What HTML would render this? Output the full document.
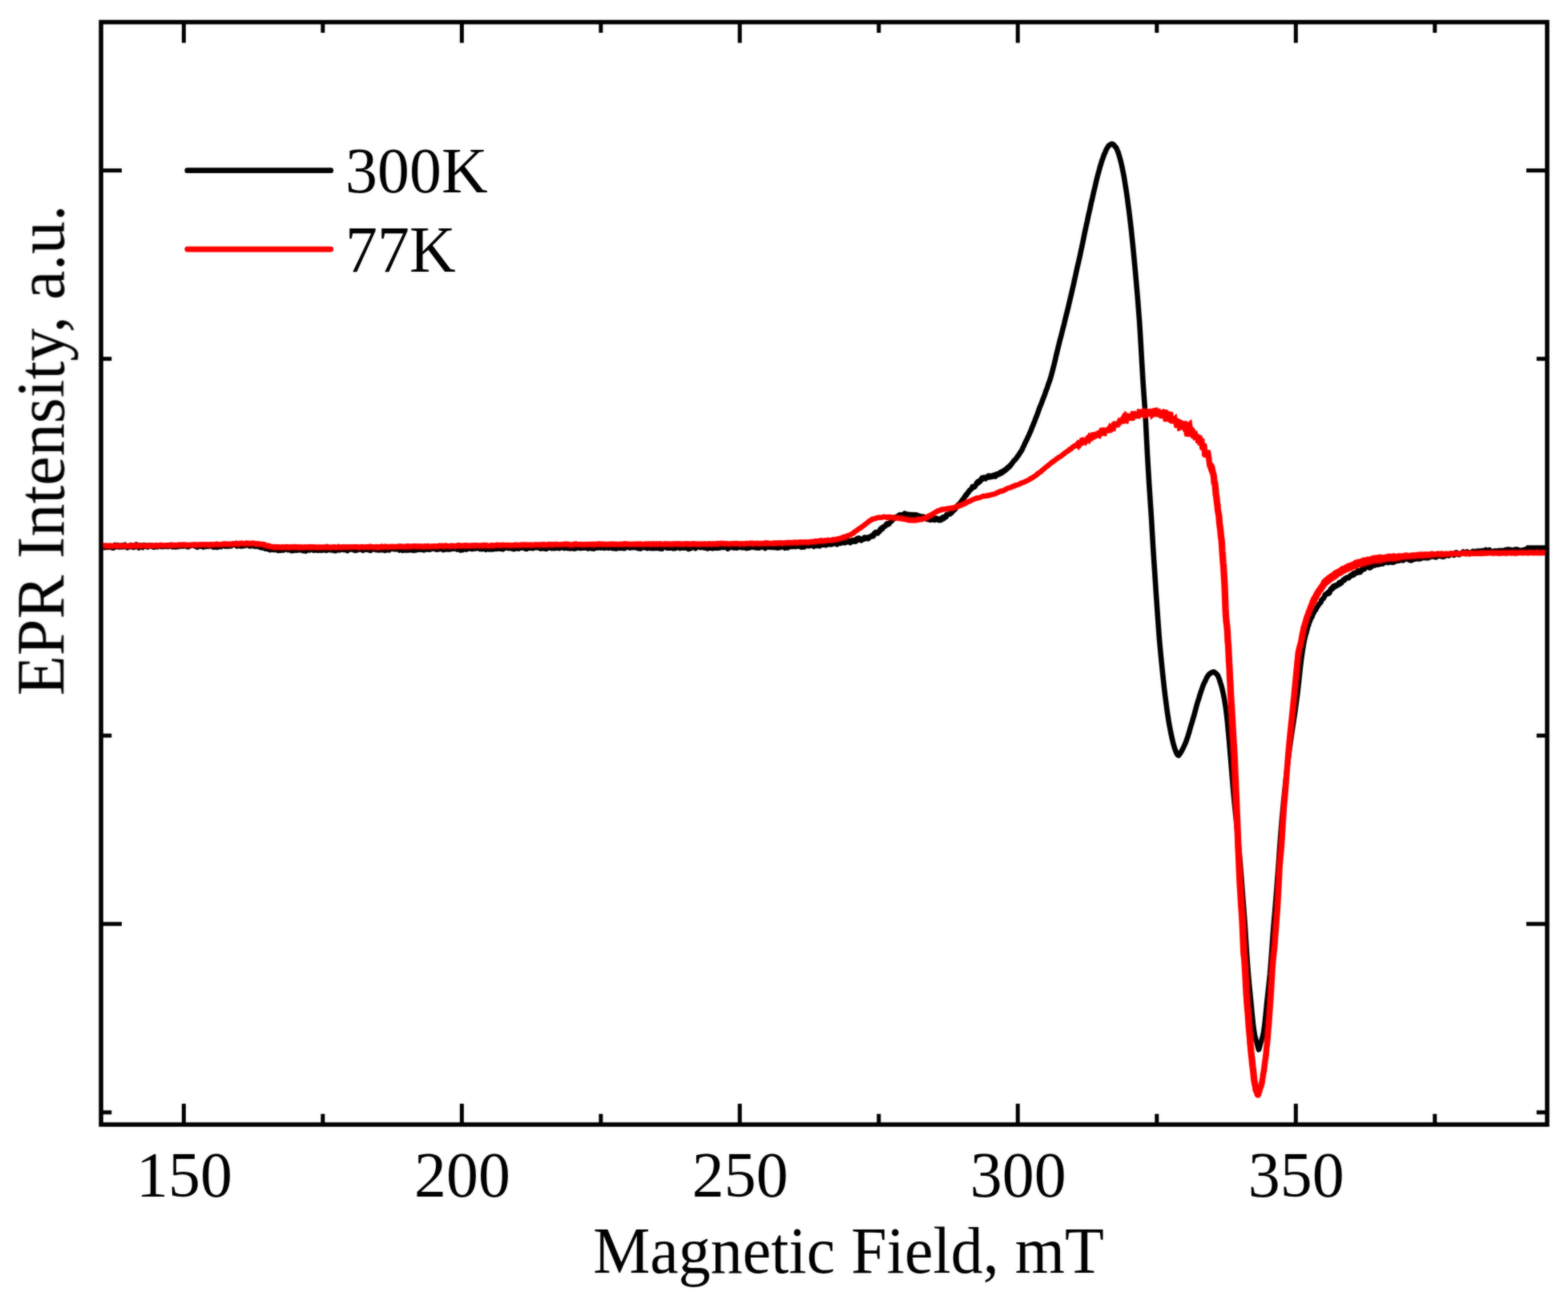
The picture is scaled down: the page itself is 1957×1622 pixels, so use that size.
<!DOCTYPE html>
<html lang="en">
<head>
<meta charset="utf-8">
<title>EPR Intensity vs Magnetic Field</title>
<style>
html,body{margin:0;padding:0;background:#fff;}
body{width:1957px;height:1622px;overflow:hidden;}
svg{display:block;}
text{font-family:"Liberation Serif",serif;font-size:80px;fill:#000;}
.ax line{stroke:#000;stroke-width:5.0;}
</style>
</head>
<body>
<svg width="1957" height="1622" viewBox="0 0 1957 1622">
<rect width="1957" height="1622" fill="#fff"/>
<defs><filter id="soft" x="0" y="0" width="1957" height="1622" filterUnits="userSpaceOnUse"><feGaussianBlur in="SourceGraphic" stdDeviation="0.9" result="b"/><feComposite in="b" in2="SourceGraphic" operator="arithmetic" k1="0" k2="0.55" k3="0.45" k4="0"/></filter><clipPath id="plot"><rect x="126.1" y="27.6" width="1804.9" height="1375.5"/></clipPath></defs>
<g filter="url(#soft)">
<g class="ax">
<line x1="229.4" y1="1403.1" x2="229.4" y2="1377.1"/>
<line x1="229.4" y1="27.6" x2="229.4" y2="53.5"/>
<line x1="576.4" y1="1403.1" x2="576.4" y2="1377.1"/>
<line x1="576.4" y1="27.6" x2="576.4" y2="53.5"/>
<line x1="923.3" y1="1403.1" x2="923.3" y2="1377.1"/>
<line x1="923.3" y1="27.6" x2="923.3" y2="53.5"/>
<line x1="1270.3" y1="1403.1" x2="1270.3" y2="1377.1"/>
<line x1="1270.3" y1="27.6" x2="1270.3" y2="53.5"/>
<line x1="1617.3" y1="1403.1" x2="1617.3" y2="1377.1"/>
<line x1="1617.3" y1="27.6" x2="1617.3" y2="53.5"/>
<line x1="402.9" y1="1403.1" x2="402.9" y2="1389.8"/>
<line x1="402.9" y1="27.6" x2="402.9" y2="40.9"/>
<line x1="749.9" y1="1403.1" x2="749.9" y2="1389.8"/>
<line x1="749.9" y1="27.6" x2="749.9" y2="40.9"/>
<line x1="1096.8" y1="1403.1" x2="1096.8" y2="1389.8"/>
<line x1="1096.8" y1="27.6" x2="1096.8" y2="40.9"/>
<line x1="1443.8" y1="1403.1" x2="1443.8" y2="1389.8"/>
<line x1="1443.8" y1="27.6" x2="1443.8" y2="40.9"/>
<line x1="1790.8" y1="1403.1" x2="1790.8" y2="1389.8"/>
<line x1="1790.8" y1="27.6" x2="1790.8" y2="40.9"/>
<line x1="126.1" y1="212.7" x2="152.0" y2="212.7"/>
<line x1="1931.0" y1="212.7" x2="1905.0" y2="212.7"/>
<line x1="126.1" y1="682.8" x2="152.0" y2="682.8"/>
<line x1="1931.0" y1="682.8" x2="1905.0" y2="682.8"/>
<line x1="126.1" y1="1152.8" x2="152.0" y2="1152.8"/>
<line x1="1931.0" y1="1152.8" x2="1905.0" y2="1152.8"/>
<line x1="126.1" y1="447.7" x2="139.3" y2="447.7"/>
<line x1="1931.0" y1="447.7" x2="1917.8" y2="447.7"/>
<line x1="126.1" y1="917.8" x2="139.3" y2="917.8"/>
<line x1="1931.0" y1="917.8" x2="1917.8" y2="917.8"/>
<line x1="126.1" y1="1387.9" x2="139.3" y2="1387.9"/>
<line x1="1931.0" y1="1387.9" x2="1917.8" y2="1387.9"/>
</g>
<g clip-path="url(#plot)">
<path fill="none" stroke="#000" stroke-width="6.6" stroke-linejoin="round" d="M124.1,681.5 124.7,682.5 125.3,682.4 125.9,681.6 126.5,681.5 127.1,682.0 127.7,682.5 128.3,681.5 128.9,683.0 129.5,682.0 130.1,682.7 130.7,681.1 131.3,683.1 131.9,682.6 132.5,682.0 133.1,682.7 133.7,682.5 134.3,682.5 134.9,682.2 135.5,682.9 136.1,682.6 136.7,682.8 137.3,682.5 137.9,681.1 138.5,681.5 139.1,682.7 139.7,683.2 140.3,682.4 140.9,683.7 141.5,683.5 142.1,683.3 142.7,682.9 143.3,681.6 143.9,680.0 144.5,680.8 145.1,680.7 145.7,681.4 146.3,681.4 146.9,681.3 147.5,680.3 148.1,681.3 148.7,682.6 149.3,680.9 149.9,681.4 150.5,682.0 151.1,680.8 151.7,680.5 152.3,682.3 152.9,681.0 153.5,681.8 154.1,682.3 154.7,682.1 155.3,680.6 155.9,679.8 156.5,681.6 157.1,681.0 157.7,681.9 158.3,682.7 158.9,683.3 159.5,682.2 160.1,682.3 160.7,682.2 161.3,681.1 161.9,681.4 162.5,680.9 163.1,682.2 163.7,680.2 164.3,681.5 164.9,680.5 165.5,681.2 166.1,680.9 166.7,683.0 167.3,682.0 167.9,682.4 168.5,680.8 169.1,680.3 169.7,681.1 170.3,679.3 170.9,681.2 171.5,681.3 172.1,681.7 172.7,682.9 173.3,683.4 173.9,682.3 174.5,682.2 175.1,681.9 175.7,681.8 176.3,680.5 176.9,682.4 177.5,682.6 178.1,683.0 178.7,681.2 179.3,681.0 179.9,680.2 180.5,680.4 181.1,680.7 181.7,681.6 182.3,681.6 182.9,680.8 183.5,682.2 184.1,680.9 184.7,682.5 185.3,680.8 185.9,680.4 186.5,680.5 187.1,680.5 187.7,680.8 188.3,681.4 188.9,681.6 189.5,680.9 190.1,682.0 190.7,682.2 191.3,682.1 191.9,682.6 192.5,681.5 193.1,681.9 193.7,680.9 194.3,681.7 194.9,682.3 195.5,681.1 196.1,680.6 196.7,680.9 197.3,682.0 197.9,681.3 198.5,681.1 199.1,681.4 199.7,681.3 200.3,680.8 200.9,681.8 201.5,682.1 202.1,681.1 202.7,681.4 203.3,681.9 203.9,681.8 204.5,681.9 205.1,682.0 205.7,681.6 206.3,681.3 206.9,681.0 207.5,681.6 208.1,681.3 208.7,681.0 209.3,681.9 209.9,682.0 210.5,681.4 211.1,680.5 211.7,681.6 212.3,680.0 212.9,680.9 213.5,680.0 214.1,681.7 214.7,682.1 215.3,682.3 215.9,681.5 216.5,682.1 217.1,681.7 217.7,681.4 218.3,681.2 218.9,682.2 219.5,681.6 220.1,682.3 220.7,682.1 221.3,681.3 221.9,681.1 222.5,680.5 223.1,681.8 223.7,682.0 224.3,681.2 224.9,681.2 225.5,681.3 226.1,680.7 226.7,681.2 227.3,681.0 227.9,681.1 228.5,681.6 229.1,681.5 229.7,680.7 230.3,679.9 230.9,681.0 231.5,680.9 232.1,680.0 232.7,681.6 233.3,681.3 233.9,681.0 234.5,682.2 235.1,681.4 235.7,682.0 236.3,681.5 236.9,680.9 237.5,680.4 238.1,680.0 238.7,680.0 239.3,680.7 239.9,680.7 240.5,680.4 241.1,680.1 241.7,680.0 242.3,680.6 242.9,680.0 243.5,679.8 244.1,681.6 244.7,681.3 245.3,682.2 245.9,681.7 246.5,682.5 247.1,680.2 247.7,680.4 248.3,681.4 248.9,680.5 249.5,679.7 250.1,681.0 250.7,681.6 251.3,680.3 251.9,680.7 252.5,680.9 253.1,681.9 253.7,682.5 254.3,680.6 254.9,680.7 255.5,679.8 256.1,681.8 256.7,681.6 257.3,681.8 257.9,680.2 258.5,680.4 259.1,680.5 259.7,680.2 260.3,681.7 260.9,680.3 261.5,680.5 262.1,680.1 262.7,681.1 263.3,679.5 263.9,681.3 264.5,680.2 265.1,682.1 265.7,681.6 266.3,682.8 266.9,682.8 267.5,682.2 268.1,681.5 268.7,680.7 269.3,682.4 269.9,682.1 270.5,681.4 271.1,681.9 271.7,682.7 272.3,681.1 272.9,681.9 273.5,680.0 274.1,681.2 274.7,681.9 275.3,681.6 275.9,682.1 276.5,681.5 277.1,681.3 277.7,680.9 278.3,680.8 278.9,680.6 279.5,680.3 280.1,680.0 280.7,681.3 281.3,680.5 281.9,679.9 282.5,681.6 283.1,680.2 283.7,679.5 284.3,680.9 284.9,681.0 285.5,681.5 286.1,680.9 286.7,680.9 287.3,680.7 287.9,680.0 288.5,681.3 289.1,680.3 289.7,680.3 290.3,679.9 290.9,678.4 291.5,678.7 292.1,679.0 292.7,679.0 293.3,679.7 293.9,679.1 294.5,679.9 295.1,681.3 295.7,681.4 296.3,681.0 296.9,679.9 297.5,680.7 298.1,680.0 298.7,679.2 299.3,680.8 299.9,679.8 300.5,679.9 301.1,681.4 301.7,680.5 302.3,681.2 302.9,680.4 303.5,680.4 304.1,680.0 304.7,680.9 305.3,679.5 305.9,680.8 306.5,679.2 307.1,678.5 307.7,679.8 308.3,678.7 308.9,678.9 309.5,678.2 310.1,680.7 310.7,680.9 311.3,681.3 311.9,681.4 312.5,680.4 313.1,681.0 313.7,680.4 314.3,681.1 314.9,681.0 315.5,680.2 316.1,680.5 316.7,679.6 317.3,680.7 317.9,681.5 318.5,679.4 319.1,680.2 319.7,681.6 320.3,679.7 320.9,679.7 321.5,680.6 322.1,681.4 322.7,681.9 323.3,681.2 323.9,681.9 324.5,682.7 325.1,682.7 325.7,682.3 326.3,683.3 326.9,681.9 327.5,681.7 328.1,682.0 328.7,682.7 329.3,683.6 329.9,683.7 330.5,684.3 331.1,683.3 331.7,684.7 332.3,683.6 332.9,683.4 333.5,684.5 334.1,682.9 334.7,682.9 335.3,684.7 335.9,685.6 336.5,684.9 337.1,686.1 337.7,685.9 338.3,684.9 338.9,684.4 339.5,685.4 340.1,685.6 340.7,683.9 341.3,685.8 341.9,685.4 342.5,686.0 343.1,686.0 343.7,684.6 344.3,685.7 344.9,684.9 345.5,686.0 346.1,685.0 346.7,684.6 347.3,686.9 347.9,685.5 348.5,685.7 349.1,686.7 349.7,686.8 350.3,686.4 350.9,686.4 351.5,686.0 352.1,686.3 352.7,685.4 353.3,685.0 353.9,686.4 354.5,686.0 355.1,684.7 355.7,684.6 356.3,684.7 356.9,684.9 357.5,684.2 358.1,684.9 358.7,684.4 359.3,686.2 359.9,686.1 360.5,685.4 361.1,685.4 361.7,685.1 362.3,684.9 362.9,686.6 363.5,685.3 364.1,687.2 364.7,686.4 365.3,686.2 365.9,686.8 366.5,687.0 367.1,686.2 367.7,685.4 368.3,686.6 368.9,686.2 369.5,685.6 370.1,686.6 370.7,684.8 371.3,685.6 371.9,685.3 372.5,684.5 373.1,685.4 373.7,686.3 374.3,685.3 374.9,684.5 375.5,684.1 376.1,685.6 376.7,685.4 377.3,685.1 377.9,687.0 378.5,685.7 379.1,686.9 379.7,686.8 380.3,686.1 380.9,686.6 381.5,687.6 382.1,686.9 382.7,685.6 383.3,685.2 383.9,686.0 384.5,685.0 385.1,685.5 385.7,686.2 386.3,684.9 386.9,686.2 387.5,685.7 388.1,685.8 388.7,685.7 389.3,685.3 389.9,684.5 390.5,684.8 391.1,685.5 391.7,686.6 392.3,685.9 392.9,684.9 393.5,684.8 394.1,685.8 394.7,685.8 395.3,686.7 395.9,686.7 396.5,685.2 397.1,685.3 397.7,686.6 398.3,686.1 398.9,685.3 399.5,685.4 400.1,686.5 400.7,684.7 401.3,685.5 401.9,686.1 402.5,685.5 403.1,686.5 403.7,684.9 404.3,684.8 404.9,684.5 405.5,685.1 406.1,685.4 406.7,685.5 407.3,686.8 407.9,685.5 408.5,685.5 409.1,686.0 409.7,686.1 410.3,685.0 410.9,685.8 411.5,685.9 412.1,685.1 412.7,685.8 413.3,686.3 413.9,685.9 414.5,685.8 415.1,684.9 415.7,685.1 416.3,685.7 416.9,686.9 417.5,685.4 418.1,685.7 418.7,687.1 419.3,686.2 419.9,685.5 420.5,686.1 421.1,685.6 421.7,685.9 422.3,685.0 422.9,684.9 423.5,686.4 424.1,685.5 424.7,685.0 425.3,685.8 425.9,685.8 426.5,685.3 427.1,685.0 427.7,685.5 428.3,684.7 428.9,685.9 429.5,684.2 430.1,685.6 430.7,684.7 431.3,686.1 431.9,684.4 432.5,685.5 433.1,685.2 433.7,687.1 434.3,685.9 434.9,685.7 435.5,684.8 436.1,685.2 436.7,685.5 437.3,685.6 437.9,684.8 438.5,683.6 439.1,683.6 439.7,684.6 440.3,684.2 440.9,685.5 441.5,686.1 442.1,685.4 442.7,686.2 443.3,686.8 443.9,685.3 444.5,685.4 445.1,685.7 445.7,686.3 446.3,684.9 446.9,685.3 447.5,685.8 448.1,685.4 448.7,684.0 449.3,685.3 449.9,685.6 450.5,683.8 451.1,685.4 451.7,686.0 452.3,686.0 452.9,686.6 453.5,685.2 454.1,685.5 454.7,686.0 455.3,685.7 455.9,685.6 456.5,685.1 457.1,685.6 457.7,684.7 458.3,684.5 458.9,684.2 459.5,684.5 460.1,686.0 460.7,685.0 461.3,686.3 461.9,685.0 462.5,686.9 463.1,685.6 463.7,685.0 464.3,685.4 464.9,683.9 465.5,683.5 466.1,685.0 466.7,683.7 467.3,684.4 467.9,685.6 468.5,685.4 469.1,685.1 469.7,686.0 470.3,684.1 470.9,684.2 471.5,684.1 472.1,686.2 472.7,686.5 473.3,686.0 473.9,685.6 474.5,686.3 475.1,686.2 475.7,686.3 476.3,686.3 476.9,685.2 477.5,685.1 478.1,684.7 478.7,686.2 479.3,686.2 479.9,684.8 480.5,686.8 481.1,685.2 481.7,684.1 482.3,685.1 482.9,685.9 483.5,684.4 484.1,684.7 484.7,686.1 485.3,684.6 485.9,686.3 486.5,684.9 487.1,684.7 487.7,684.1 488.3,684.4 488.9,684.6 489.5,683.9 490.1,683.7 490.7,684.5 491.3,685.0 491.9,685.3 492.5,685.2 493.1,684.9 493.7,685.2 494.3,683.9 494.9,685.1 495.5,684.8 496.1,683.9 496.7,684.9 497.3,684.8 497.9,685.1 498.5,686.5 499.1,686.2 499.7,685.1 500.3,685.9 500.9,686.0 501.5,684.6 502.1,684.4 502.7,686.8 503.3,684.9 503.9,685.1 504.5,685.7 505.1,685.2 505.7,686.3 506.3,685.7 506.9,685.9 507.5,686.4 508.1,685.6 508.7,686.3 509.3,686.5 509.9,686.2 510.5,685.7 511.1,685.9 511.7,684.4 512.3,686.3 512.9,686.3 513.5,684.5 514.1,685.3 514.7,686.5 515.3,685.6 515.9,684.7 516.5,686.0 517.1,686.7 517.7,685.3 518.3,685.7 518.9,684.7 519.5,686.3 520.1,686.3 520.7,685.3 521.3,685.0 521.9,684.2 522.5,685.3 523.1,684.6 523.7,685.5 524.3,683.8 524.9,684.8 525.5,685.7 526.1,683.9 526.7,683.9 527.3,684.7 527.9,685.6 528.5,685.6 529.1,686.3 529.7,686.1 530.3,685.0 530.9,685.0 531.5,684.5 532.1,683.7 532.7,685.3 533.3,683.9 533.9,684.6 534.5,685.3 535.1,685.6 535.7,685.5 536.3,685.7 536.9,684.9 537.5,683.7 538.1,684.0 538.7,684.9 539.3,684.9 539.9,682.6 540.5,683.3 541.1,683.0 541.7,682.8 542.3,683.2 542.9,684.4 543.5,684.0 544.1,685.4 544.7,684.2 545.3,685.6 545.9,685.2 546.5,684.5 547.1,685.2 547.7,685.2 548.3,683.3 548.9,685.2 549.5,683.6 550.1,684.1 550.7,684.4 551.3,684.2 551.9,684.3 552.5,685.3 553.1,685.9 553.7,684.9 554.3,685.6 554.9,685.7 555.5,684.2 556.1,685.1 556.7,684.0 557.3,684.4 557.9,685.4 558.5,683.4 559.1,684.6 559.7,684.9 560.3,684.8 560.9,685.4 561.5,684.0 562.1,684.1 562.7,684.8 563.3,684.9 563.9,684.7 564.5,684.2 565.1,683.7 565.7,684.3 566.3,684.7 566.9,684.4 567.5,683.1 568.1,684.4 568.7,684.3 569.3,684.3 569.9,684.9 570.5,685.4 571.1,683.9 571.7,685.2 572.3,684.9 572.9,685.2 573.5,684.0 574.1,685.1 574.7,686.5 575.3,685.8 575.9,684.7 576.5,685.5 577.1,686.1 577.7,684.9 578.3,684.5 578.9,684.0 579.5,684.8 580.1,685.1 580.7,684.5 581.3,684.8 581.9,685.5 582.5,684.3 583.1,684.1 583.7,683.9 584.3,684.7 584.9,683.4 585.5,683.6 586.1,684.1 586.7,682.6 587.3,683.2 587.9,684.5 588.5,683.9 589.1,683.4 589.7,685.0 590.3,684.7 590.9,683.3 591.5,684.4 592.1,683.8 592.7,683.6 593.3,684.6 593.9,684.3 594.5,682.8 595.1,683.3 595.7,683.5 596.3,683.4 596.9,683.7 597.5,684.3 598.1,684.4 598.7,685.0 599.3,684.7 599.9,683.2 600.5,684.4 601.1,683.4 601.7,685.2 602.3,683.1 602.9,684.2 603.5,683.2 604.1,684.4 604.7,683.3 605.3,685.1 605.9,684.8 606.5,685.7 607.1,684.3 607.7,683.6 608.3,684.1 608.9,683.8 609.5,683.4 610.1,685.3 610.7,684.9 611.3,684.2 611.9,683.4 612.5,685.5 613.1,684.3 613.7,683.2 614.3,684.8 614.9,685.3 615.5,684.1 616.1,684.4 616.7,685.0 617.3,684.6 617.9,684.0 618.5,683.3 619.1,684.5 619.7,685.0 620.3,684.7 620.9,683.3 621.5,683.4 622.1,684.4 622.7,684.4 623.3,683.6 623.9,684.1 624.5,684.6 625.1,683.3 625.7,684.0 626.3,683.4 626.9,685.2 627.5,683.5 628.1,685.2 628.7,683.9 629.3,683.2 629.9,683.2 630.5,683.9 631.1,683.6 631.7,682.5 632.3,683.0 632.9,682.8 633.5,682.4 634.1,683.8 634.7,684.1 635.3,683.5 635.9,683.8 636.5,683.7 637.1,684.1 637.7,683.4 638.3,684.0 638.9,684.3 639.5,683.7 640.1,684.7 640.7,684.0 641.3,683.5 641.9,685.0 642.5,684.3 643.1,684.5 643.7,682.5 644.3,682.4 644.9,682.7 645.5,682.0 646.1,683.6 646.7,683.1 647.3,684.6 647.9,684.0 648.5,682.3 649.1,683.3 649.7,683.1 650.3,682.1 650.9,682.1 651.5,683.5 652.1,682.4 652.7,682.9 653.3,683.4 653.9,682.7 654.5,683.7 655.1,683.1 655.7,684.7 656.3,684.0 656.9,683.5 657.5,684.9 658.1,683.4 658.7,683.9 659.3,683.3 659.9,683.5 660.5,681.6 661.1,683.5 661.7,682.5 662.3,683.4 662.9,682.6 663.5,684.0 664.1,683.5 664.7,682.5 665.3,683.1 665.9,683.9 666.5,682.6 667.1,681.8 667.7,682.9 668.3,682.8 668.9,683.1 669.5,682.6 670.1,683.2 670.7,683.2 671.3,683.2 671.9,682.3 672.5,683.7 673.1,682.5 673.7,683.6 674.3,683.8 674.9,684.4 675.5,683.5 676.1,682.6 676.7,682.7 677.3,682.4 677.9,683.4 678.5,682.7 679.1,684.4 679.7,682.8 680.3,684.0 680.9,684.6 681.5,684.8 682.1,683.2 682.7,684.5 683.3,683.9 683.9,682.5 684.5,683.5 685.1,683.4 685.7,683.0 686.3,683.0 686.9,682.9 687.5,683.5 688.1,683.9 688.7,683.0 689.3,683.6 689.9,682.5 690.5,684.0 691.1,683.8 691.7,682.3 692.3,683.2 692.9,683.0 693.5,684.0 694.1,683.3 694.7,683.4 695.3,683.5 695.9,682.8 696.5,683.7 697.1,683.9 697.7,684.1 698.3,683.2 698.9,683.7 699.5,682.1 700.1,683.2 700.7,681.3 701.3,683.3 701.9,681.9 702.5,682.7 703.1,681.6 703.7,682.9 704.3,682.5 704.9,684.0 705.5,683.3 706.1,683.3 706.7,683.5 707.3,682.9 707.9,682.4 708.5,682.5 709.1,684.2 709.7,683.3 710.3,682.5 710.9,683.6 711.5,683.5 712.1,684.3 712.7,682.4 713.3,682.0 713.9,682.5 714.5,682.0 715.1,683.6 715.7,683.6 716.3,684.4 716.9,683.5 717.5,683.7 718.1,684.4 718.7,684.2 719.3,684.1 719.9,682.4 720.5,682.1 721.1,681.6 721.7,682.7 722.3,683.2 722.9,682.9 723.5,682.8 724.1,684.0 724.7,683.5 725.3,682.6 725.9,683.5 726.5,682.3 727.1,683.8 727.7,682.6 728.3,683.4 728.9,682.9 729.5,682.6 730.1,682.8 730.7,683.4 731.3,682.8 731.9,683.5 732.5,683.3 733.1,684.1 733.7,684.4 734.3,684.5 734.9,683.7 735.5,683.4 736.1,683.4 736.7,682.6 737.3,683.5 737.9,683.9 738.5,684.3 739.1,684.0 739.7,684.4 740.3,684.0 740.9,683.6 741.5,684.4 742.1,683.9 742.7,683.3 743.3,683.5 743.9,683.6 744.5,682.6 745.1,683.5 745.7,683.6 746.3,682.8 746.9,683.3 747.5,683.2 748.1,683.3 748.7,682.3 749.3,682.4 749.9,683.6 750.5,681.8 751.1,683.3 751.7,682.7 752.3,683.0 752.9,683.3 753.5,683.8 754.1,682.6 754.7,683.3 755.3,681.9 755.9,681.4 756.5,682.7 757.1,683.6 757.7,682.9 758.3,683.0 758.9,682.3 759.5,683.2 760.1,683.7 760.7,682.7 761.3,682.3 761.9,681.7 762.5,682.2 763.1,683.2 763.7,683.7 764.3,683.1 764.9,683.4 765.5,684.1 766.1,682.7 766.7,682.5 767.3,684.3 767.9,684.3 768.5,683.2 769.1,684.5 769.7,683.7 770.3,682.9 770.9,684.1 771.5,683.6 772.1,683.8 772.7,682.8 773.3,683.5 773.9,683.5 774.5,683.8 775.1,683.9 775.7,682.8 776.3,682.6 776.9,683.1 777.5,683.1 778.1,683.0 778.7,684.3 779.3,684.3 779.9,682.6 780.5,682.5 781.1,683.0 781.7,683.0 782.3,681.9 782.9,682.7 783.5,681.6 784.1,682.6 784.7,682.0 785.3,682.1 785.9,682.0 786.5,683.7 787.1,683.0 787.7,682.5 788.3,682.7 788.9,682.5 789.5,682.6 790.1,683.1 790.7,683.1 791.3,682.5 791.9,682.5 792.5,681.2 793.1,681.0 793.7,681.8 794.3,683.4 794.9,682.9 795.5,683.0 796.1,683.8 796.7,684.2 797.3,682.7 797.9,683.2 798.5,684.2 799.1,684.5 799.7,683.2 800.3,683.9 800.9,683.5 801.5,683.5 802.1,682.8 802.7,683.1 803.3,681.9 803.9,681.7 804.5,683.1 805.1,681.7 805.7,682.8 806.3,683.2 806.9,683.8 807.5,683.4 808.1,684.1 808.7,683.5 809.3,683.9 809.9,683.3 810.5,683.4 811.1,683.6 811.7,682.0 812.3,683.9 812.9,684.1 813.5,683.4 814.1,682.9 814.7,684.0 815.3,684.0 815.9,684.2 816.5,683.3 817.1,683.5 817.7,682.5 818.3,683.9 818.9,682.7 819.5,682.9 820.1,683.8 820.7,682.5 821.3,681.8 821.9,682.5 822.5,682.7 823.1,684.3 823.7,684.1 824.3,684.1 824.9,684.5 825.5,684.7 826.1,684.8 826.7,683.1 827.3,682.8 827.9,682.0 828.5,682.1 829.1,681.6 829.7,682.5 830.3,681.3 830.9,682.1 831.5,682.4 832.1,683.2 832.7,683.8 833.3,682.5 833.9,683.6 834.5,683.6 835.1,683.2 835.7,682.4 836.3,683.0 836.9,683.6 837.5,682.2 838.1,682.7 838.7,682.9 839.3,683.7 839.9,683.0 840.5,684.3 841.1,682.8 841.7,683.2 842.3,683.2 842.9,684.1 843.5,683.8 844.1,683.5 844.7,683.4 845.3,682.6 845.9,680.8 846.5,681.2 847.1,682.3 847.7,683.0 848.3,683.1 848.9,683.9 849.5,683.3 850.1,683.6 850.7,683.3 851.3,682.7 851.9,681.6 852.5,683.6 853.1,683.6 853.7,683.4 854.3,683.5 854.9,682.8 855.5,682.6 856.1,683.6 856.7,683.3 857.3,683.7 857.9,683.8 858.5,684.2 859.1,684.9 859.7,684.3 860.3,683.9 860.9,684.1 861.5,684.3 862.1,682.5 862.7,682.4 863.3,682.4 863.9,683.4 864.5,681.8 865.1,682.2 865.7,682.7 866.3,682.6 866.9,682.7 867.5,682.9 868.1,684.3 868.7,682.1 869.3,683.1 869.9,682.3 870.5,681.0 871.1,680.9 871.7,682.5 872.3,681.8 872.9,681.7 873.5,681.9 874.1,682.0 874.7,683.1 875.3,681.8 875.9,682.7 876.5,682.0 877.1,682.0 877.7,682.4 878.3,682.9 878.9,683.4 879.5,681.8 880.1,682.6 880.7,682.7 881.3,683.4 881.9,683.7 882.5,683.2 883.1,684.5 883.7,684.5 884.3,682.3 884.9,683.0 885.5,682.1 886.1,681.4 886.7,682.6 887.3,682.1 887.9,683.9 888.5,683.6 889.1,683.7 889.7,684.2 890.3,683.7 890.9,682.9 891.5,681.5 892.1,681.7 892.7,682.7 893.3,683.6 893.9,682.7 894.5,682.2 895.1,683.9 895.7,681.8 896.3,683.1 896.9,682.1 897.5,682.8 898.1,683.5 898.7,682.0 899.3,683.3 899.9,682.2 900.5,682.0 901.1,681.8 901.7,681.8 902.3,682.7 902.9,683.1 903.5,682.7 904.1,682.0 904.7,681.7 905.3,680.7 905.9,681.4 906.5,683.0 907.1,682.4 907.7,684.0 908.3,684.7 908.9,684.1 909.5,683.6 910.1,683.8 910.7,683.3 911.3,682.4 911.9,682.5 912.5,682.1 913.1,681.9 913.7,681.6 914.3,681.9 914.9,683.2 915.5,682.9 916.1,683.3 916.7,681.5 917.3,682.9 917.9,682.2 918.5,682.6 919.1,683.6 919.7,682.3 920.3,683.3 920.9,681.2 921.5,682.4 922.1,681.8 922.7,682.4 923.3,681.6 923.9,682.8 924.5,681.9 925.1,683.0 925.7,682.8 926.3,683.2 926.9,682.2 927.5,683.2 928.1,682.9 928.7,682.3 929.3,683.0 929.9,683.5 930.5,683.5 931.1,683.3 931.7,684.0 932.3,683.1 932.9,683.0 933.5,682.6 934.1,683.6 934.7,682.6 935.3,683.0 935.9,683.4 936.5,683.1 937.1,682.6 937.7,681.5 938.3,681.4 938.9,681.4 939.5,682.2 940.1,680.9 940.7,681.7 941.3,683.0 941.9,681.5 942.5,682.1 943.1,682.8 943.7,681.1 944.3,682.0 944.9,683.6 945.5,682.9 946.1,682.7 946.7,682.9 947.3,682.8 947.9,683.5 948.5,682.1 949.1,682.6 949.7,681.9 950.3,682.4 950.9,682.5 951.5,681.5 952.1,681.3 952.7,682.9 953.3,681.6 953.9,682.7 954.5,683.4 955.1,684.1 955.7,683.0 956.3,682.5 956.9,682.4 957.5,681.7 958.1,680.5 958.7,681.3 959.3,681.8 959.9,681.2 960.5,682.7 961.1,681.7 961.7,682.9 962.3,682.3 962.9,681.8 963.5,682.8 964.1,682.9 964.7,681.6 965.3,681.8 965.9,682.9 966.5,683.1 967.1,681.9 967.7,682.6 968.3,682.5 968.9,682.7 969.5,683.3 970.1,682.4 970.7,683.5 971.3,681.7 971.9,682.8 972.5,681.6 973.1,682.8 973.7,683.1 974.3,682.6 974.9,681.3 975.5,682.3 976.1,680.7 976.7,681.2 977.3,682.2 977.9,681.8 978.5,682.4 979.1,682.8 979.7,683.7 980.3,682.6 980.9,683.1 981.5,682.3 982.1,682.3 982.7,682.0 983.3,683.4 983.9,681.7 984.5,680.9 985.1,680.6 985.7,680.4 986.3,681.9 986.9,681.2 987.5,680.5 988.1,681.4 988.7,682.0 989.3,680.0 989.9,680.9 990.5,680.3 991.1,680.6 991.7,681.3 992.3,682.1 992.9,682.0 993.5,680.5 994.1,681.4 994.7,681.8 995.3,681.6 995.9,681.4 996.5,681.4 997.1,681.2 997.7,679.6 998.3,679.7 998.9,680.5 999.5,682.4 1000.1,682.7 1000.7,682.7 1001.3,681.9 1001.9,681.9 1002.5,682.3 1003.1,682.0 1003.7,682.4 1004.3,680.9 1004.9,681.5 1005.5,680.9 1006.1,681.0 1006.7,680.6 1007.3,680.5 1007.9,680.9 1008.5,679.9 1009.1,681.1 1009.7,679.8 1010.3,681.2 1010.9,680.3 1011.5,680.1 1012.1,680.0 1012.7,679.8 1013.3,680.0 1013.9,680.6 1014.5,680.6 1015.1,680.0 1015.7,681.8 1016.3,679.9 1016.9,680.9 1017.5,680.4 1018.1,680.8 1018.7,681.1 1019.3,680.8 1019.9,679.5 1020.5,680.4 1021.1,680.8 1021.7,680.1 1022.3,679.3 1022.9,681.3 1023.5,679.6 1024.1,680.3 1024.7,679.8 1025.3,680.2 1025.9,680.0 1026.5,679.5 1027.1,679.7 1027.7,679.2 1028.3,679.6 1028.9,679.2 1029.5,679.1 1030.1,680.0 1030.7,680.3 1031.3,678.0 1031.9,679.3 1032.5,678.0 1033.1,678.8 1033.7,677.1 1034.3,677.9 1034.9,679.2 1035.5,678.7 1036.1,677.2 1036.7,679.0 1037.3,678.0 1037.9,679.3 1038.5,678.3 1039.1,678.7 1039.7,678.1 1040.3,678.4 1040.9,677.9 1041.5,677.5 1042.1,677.4 1042.7,677.4 1043.3,677.9 1043.9,678.5 1044.5,679.2 1045.1,678.5 1045.7,677.6 1046.3,676.8 1046.9,677.0 1047.5,677.8 1048.1,677.4 1048.7,676.9 1049.3,677.8 1049.9,676.5 1050.5,675.5 1051.1,675.4 1051.7,675.8 1052.3,675.4 1052.9,675.6 1053.5,676.5 1054.1,677.4 1054.7,677.1 1055.3,676.7 1055.9,675.8 1056.5,676.4 1057.1,675.7 1057.7,673.8 1058.3,674.3 1058.9,674.5 1059.5,675.4 1060.1,675.0 1060.7,675.3 1061.3,677.2 1061.9,675.9 1062.5,674.5 1063.1,675.0 1063.7,674.8 1064.3,673.9 1064.9,675.6 1065.5,673.9 1066.1,673.8 1066.7,675.0 1067.3,674.5 1067.9,675.6 1068.5,675.2 1069.1,673.3 1069.7,671.9 1070.3,672.0 1070.9,672.8 1071.5,673.3 1072.1,671.4 1072.7,671.8 1073.3,673.5 1073.9,673.0 1074.5,674.1 1075.1,674.3 1075.7,672.8 1076.3,672.4 1076.9,673.0 1077.5,672.5 1078.1,672.7 1078.7,670.5 1079.3,671.2 1079.9,671.6 1080.5,670.7 1081.1,672.0 1081.7,671.9 1082.3,671.7 1082.9,670.7 1083.5,672.2 1084.1,670.9 1084.7,671.2 1085.3,669.9 1085.9,669.5 1086.5,669.4 1087.1,669.4 1087.7,668.7 1088.3,669.0 1088.9,669.1 1089.5,668.0 1090.1,668.8 1090.7,666.1 1091.3,665.5 1091.9,665.0 1092.5,664.2 1093.1,665.3 1093.7,664.1 1094.3,664.4 1094.9,664.0 1095.5,665.4 1096.1,663.8 1096.7,663.6 1097.3,663.0 1097.9,662.9 1098.5,660.4 1099.1,660.2 1099.7,659.3 1100.3,660.6 1100.9,659.9 1101.5,659.6 1102.1,657.4 1102.7,657.1 1103.3,657.1 1103.9,657.1 1104.5,656.7 1105.1,656.2 1105.7,655.1 1106.3,653.7 1106.9,653.8 1107.5,653.2 1108.1,654.4 1108.7,654.3 1109.3,653.1 1109.9,653.3 1110.5,652.1 1111.1,651.5 1111.7,651.1 1112.3,650.1 1112.9,650.2 1113.5,648.8 1114.1,648.3 1114.7,648.3 1115.3,647.4 1115.9,646.6 1116.5,645.4 1117.1,645.8 1117.7,645.5 1118.3,645.1 1118.9,644.9 1119.5,645.1 1120.1,644.7 1120.7,644.0 1121.3,643.3 1121.9,644.8 1122.5,644.0 1123.1,642.4 1123.7,642.9 1124.3,643.0 1124.9,642.6 1125.5,642.4 1126.1,643.9 1126.7,642.1 1127.3,643.5 1127.9,642.1 1128.5,640.9 1129.1,640.7 1129.7,642.5 1130.3,641.3 1130.9,641.4 1131.5,641.9 1132.1,643.0 1132.7,641.7 1133.3,641.7 1133.9,643.2 1134.5,642.9 1135.1,641.9 1135.7,643.1 1136.3,643.8 1136.9,642.8 1137.5,642.6 1138.1,643.6 1138.7,642.1 1139.3,642.4 1139.9,642.8 1140.5,643.0 1141.1,642.3 1141.7,642.6 1142.3,643.1 1142.9,642.3 1143.5,642.3 1144.1,643.8 1144.7,642.7 1145.3,644.5 1145.9,644.7 1146.5,644.9 1147.1,643.6 1147.7,644.7 1148.3,645.5 1148.9,644.4 1149.5,644.7 1150.1,646.6 1150.7,645.5 1151.3,644.5 1151.9,645.5 1152.5,645.6 1153.1,644.8 1153.7,645.8 1154.3,645.3 1154.9,645.4 1155.5,646.0 1156.1,646.6 1156.7,647.8 1157.3,646.5 1157.9,647.6 1158.5,647.6 1159.1,647.8 1159.7,648.5 1160.3,648.5 1160.9,648.3 1161.5,648.7 1162.1,647.4 1162.7,647.6 1163.3,647.6 1163.9,647.1 1164.5,647.0 1165.1,648.3 1165.7,647.0 1166.3,648.8 1166.9,648.6 1167.5,647.2 1168.1,646.4 1168.7,646.6 1169.3,647.1 1169.9,647.9 1170.5,647.9 1171.1,648.7 1171.7,648.3 1172.3,649.0 1172.9,647.3 1173.5,648.5 1174.1,648.1 1174.7,648.7 1175.3,646.6 1175.9,646.9 1176.5,647.6 1177.1,645.1 1177.7,646.3 1178.3,646.7 1178.9,645.8 1179.5,645.5 1180.1,645.2 1180.7,645.2 1181.3,642.2 1181.9,643.2 1182.5,641.9 1183.1,641.7 1183.7,641.5 1184.3,641.2 1184.9,641.4 1185.5,641.5 1186.1,639.7 1186.7,639.6 1187.3,640.1 1187.9,639.5 1188.5,638.4 1189.1,638.1 1189.7,636.0 1190.3,637.0 1190.9,635.6 1191.5,635.7 1192.1,635.5 1192.7,632.9 1193.3,633.4 1193.9,632.2 1194.5,632.2 1195.1,631.7 1195.7,630.0 1196.3,630.9 1196.9,629.2 1197.5,629.4 1198.1,628.0 1198.7,628.3 1199.3,626.3 1199.9,625.4 1200.5,625.1 1201.1,623.8 1201.7,623.4 1202.3,622.8 1202.9,621.3 1203.5,621.6 1204.1,619.7 1204.7,618.9 1205.3,617.8 1205.9,618.2 1206.5,617.2 1207.1,615.6 1207.7,615.2 1208.3,615.1 1208.9,613.2 1209.5,613.1 1210.1,611.8 1210.7,611.7 1211.3,610.9 1211.9,610.3 1212.5,609.9 1213.1,609.3 1213.7,607.1 1214.3,607.9 1214.9,607.7 1215.5,607.7 1216.1,607.8 1216.7,607.1 1217.3,606.1 1217.9,605.1 1218.5,603.7 1219.1,602.3 1219.7,603.3 1220.3,601.0 1220.9,601.0 1221.5,602.1 1222.1,600.1 1222.7,601.0 1223.3,600.8 1223.9,598.9 1224.5,598.0 1225.1,597.3 1225.7,596.2 1226.3,597.8 1226.9,596.8 1227.5,596.3 1228.1,595.7 1228.7,596.9 1229.3,596.9 1229.9,597.3 1230.5,595.9 1231.1,595.9 1231.7,595.2 1232.3,594.9 1232.9,594.3 1233.5,593.7 1234.1,595.5 1234.7,593.9 1235.3,595.0 1235.9,594.5 1236.5,593.7 1237.1,594.3 1237.7,595.1 1238.3,594.8 1238.9,594.2 1239.5,593.6 1240.1,592.9 1240.7,592.9 1241.3,593.2 1241.9,593.6 1242.5,594.4 1243.1,591.8 1243.7,592.9 1244.3,592.0 1244.9,592.5 1245.5,591.1 1246.1,591.9 1246.7,591.1 1247.3,591.6 1247.9,590.2 1248.5,591.1 1249.1,589.2 1249.7,590.5 1250.3,589.3 1250.9,588.7 1251.5,588.0 1252.1,588.8 1252.7,587.8 1253.3,586.8 1253.9,587.5 1254.5,586.5 1255.1,586.7 1255.7,585.4 1256.3,585.5 1256.9,584.2 1257.5,583.5 1258.1,583.9 1258.7,582.5 1259.3,582.2 1259.9,582.4 1260.5,581.5 1261.1,580.4 1261.7,579.6"/>
<path fill="none" stroke="#000" stroke-width="6.6" stroke-linejoin="round" d="M1260.0,582.1 1261.0,580.7 1262.0,579.7 1263.0,578.2 1264.0,577.1 1265.0,575.4 1266.0,574.3 1267.0,573.7 1268.0,572.2 1269.0,571.1 1270.0,569.4 1271.0,568.4 1272.0,566.6 1273.0,565.1 1274.0,563.6 1275.0,562.1 1276.0,560.2 1277.0,557.8 1278.0,556.1 1279.0,553.6 1280.0,551.6 1281.0,549.4 1282.0,547.6 1283.0,545.1 1284.0,543.4 1285.0,540.8 1286.0,538.8 1287.0,536.2 1288.0,533.6 1289.0,531.3 1290.0,528.7 1291.0,526.3 1292.0,523.6 1293.0,520.9 1294.0,518.6 1295.0,515.9 1296.0,513.1 1297.0,510.1 1298.0,507.6 1299.0,505.2 1300.0,502.7 1301.0,499.9 1302.0,497.2 1303.0,494.8 1304.0,492.3 1305.0,489.1 1306.0,486.3 1307.0,483.9 1308.0,480.6 1309.0,477.8 1310.0,475.1 1311.0,472.1 1312.0,468.6 1313.0,465.0 1314.0,461.1 1315.0,457.2 1316.0,453.3 1317.0,449.1 1318.0,444.4 1319.0,440.4 1320.0,436.2 1321.0,432.0 1322.0,428.2 1323.0,423.9 1324.0,420.4 1325.0,416.5 1326.0,412.5 1327.0,408.5 1328.0,404.8 1329.0,400.6 1330.0,396.3 1331.0,392.4 1332.0,388.4 1333.0,384.4 1334.0,380.0 1335.0,375.9 1336.0,371.5 1337.0,367.4 1338.0,363.1 1339.0,358.6 1340.0,354.4 1341.0,349.5 1342.0,345.2 1343.0,340.5 1344.0,336.0 1345.0,331.6 1346.0,327.4 1347.0,323.1 1348.0,318.6 1349.0,313.7 1350.0,309.1 1351.0,304.3 1352.0,299.5 1353.0,294.4 1354.0,289.5 1355.0,285.1 1356.0,280.1 1357.0,276.0 1358.0,270.9 1359.0,266.4 1360.0,262.2 1361.0,257.5 1362.0,252.8 1363.0,248.9 1364.0,244.4 1365.0,239.7 1366.0,235.7 1367.0,231.6 1368.0,227.0 1369.0,222.9 1370.0,219.0 1371.0,215.3 1372.0,211.8 1373.0,207.9 1374.0,204.9 1375.0,201.3 1376.0,198.6 1377.0,196.0 1378.0,192.9 1379.0,191.0 1380.0,188.6 1381.0,186.1 1382.0,184.3 1383.0,182.9 1384.0,181.4 1385.0,181.1 1386.0,180.2 1387.0,179.7 1388.0,179.5 1389.0,180.0 1390.0,180.7 1391.0,181.9 1392.0,183.2 1393.0,184.2 1394.0,186.3 1395.0,188.7 1396.0,191.3 1397.0,194.8 1398.0,198.2 1399.0,202.1 1400.0,206.4 1401.0,211.2 1402.0,216.1 1403.0,221.2 1404.0,227.7 1405.0,233.9 1406.0,240.2 1407.0,247.2 1408.0,255.0 1409.0,262.2 1410.0,270.5 1411.0,278.9 1412.0,287.6 1413.0,297.5 1414.0,307.1 1415.0,317.4 1416.0,328.1 1417.0,338.9 1418.0,350.2 1419.0,361.7 1420.0,373.5 1421.0,386.4 1422.0,399.4 1423.0,414.6 1424.0,431.9 1425.0,449.8 1426.0,466.5 1427.0,482.6 1428.0,496.8 1429.0,510.8 1430.0,526.9 1431.0,547.2 1432.0,566.5 1433.0,583.6 1434.0,600.3 1435.0,615.7 1436.0,630.7 1437.0,645.9 1438.0,663.3 1439.0,680.1 1440.0,696.2 1441.0,711.0 1442.0,726.4 1443.0,741.6 1444.0,756.3 1445.0,770.5 1446.0,784.4 1447.0,797.7 1448.0,808.8 1449.0,819.5 1450.0,829.4 1451.0,839.3 1452.0,848.6 1453.0,857.8 1454.0,866.4 1455.0,874.0 1456.0,881.8 1457.0,889.2 1458.0,895.8 1459.0,902.2 1460.0,907.5 1461.0,912.7 1462.0,917.5 1463.0,922.0 1464.0,926.3 1465.0,929.8 1466.0,933.4 1467.0,936.0 1468.0,938.7 1469.0,940.6 1470.0,942.1 1471.0,942.6 1472.0,941.4 1473.0,940.1 1474.0,938.4 1475.0,936.8 1476.0,934.6 1477.0,932.7 1478.0,930.6 1479.0,928.4 1480.0,926.1 1481.0,923.2 1482.0,920.5 1483.0,917.1 1484.0,914.1 1485.0,910.3 1486.0,906.8 1487.0,903.6 1488.0,900.4 1489.0,896.6 1490.0,893.6 1491.0,889.9 1492.0,886.2 1493.0,882.3 1494.0,878.7 1495.0,875.1 1496.0,872.5 1497.0,868.8 1498.0,865.7 1499.0,862.6 1500.0,859.9 1501.0,857.0 1502.0,854.1 1503.0,852.0 1504.0,850.2 1505.0,848.0 1506.0,845.7 1507.0,844.1 1508.0,842.6 1509.0,841.3 1510.0,840.7 1511.0,839.8 1512.0,839.3 1513.0,838.9 1514.0,838.4 1515.0,838.3 1516.0,839.0 1517.0,839.7 1518.0,840.6 1519.0,841.6 1520.0,842.8 1521.0,845.4 1522.0,847.9 1523.0,851.5 1524.0,854.4 1525.0,857.9 1526.0,862.1 1527.0,866.7 1528.0,871.7 1529.0,877.6 1530.0,884.3 1531.0,892.4 1532.0,901.7 1533.0,912.4 1534.0,923.1 1535.0,935.2 1536.0,947.1 1537.0,959.3 1538.0,971.6 1539.0,983.8 1540.0,994.7 1541.0,1005.1 1542.0,1014.8 1543.0,1025.0 1544.0,1034.9 1545.0,1045.1 1546.0,1055.5 1547.0,1066.0 1548.0,1077.9 1549.0,1090.7 1550.0,1103.9 1551.0,1117.0 1552.0,1130.0 1553.0,1143.0 1554.0,1157.0 1555.0,1173.4 1556.0,1188.8 1557.0,1202.9 1558.0,1215.7 1559.0,1226.9 1560.0,1237.3 1561.0,1247.4 1562.0,1257.9 1563.0,1268.4 1564.0,1277.9 1565.0,1285.6 1566.0,1291.4 1567.0,1295.7 1568.0,1299.5 1569.0,1302.8 1570.0,1306.8 1571.0,1309.5 1572.0,1306.8 1573.0,1302.9 1574.0,1300.1 1575.0,1296.8 1576.0,1293.0 1577.0,1288.1 1578.0,1281.6 1579.0,1272.9 1580.0,1263.1 1581.0,1252.8 1582.0,1243.6 1583.0,1234.6 1584.0,1225.2 1585.0,1215.6 1586.0,1203.0 1587.0,1190.0 1588.0,1176.1 1589.0,1162.2 1590.0,1150.1 1591.0,1139.0 1592.0,1127.0 1593.0,1114.6 1594.0,1101.2 1595.0,1088.1 1596.0,1074.6 1597.0,1059.9 1598.0,1045.9 1599.0,1033.7 1600.0,1021.6 1601.0,1010.8 1602.0,1000.0 1603.0,990.3 1604.0,980.6 1605.0,971.3 1606.0,962.7 1607.0,953.8 1608.0,945.4 1609.0,937.7 1610.0,930.1 1611.0,923.2 1612.0,916.2 1613.0,909.8 1614.0,903.2 1615.0,896.7 1616.0,889.9 1617.0,882.7 1618.0,875.0 1619.0,868.0 1620.0,859.7 1621.0,850.8 1622.0,841.1 1623.0,831.9 1624.0,823.5 1625.0,816.5 1626.0,809.6 1627.0,804.0 1628.0,798.5 1629.0,794.2 1630.0,789.7 1631.0,786.0 1632.0,782.7"/>
<path fill="none" stroke="#000" stroke-width="6.6" stroke-linejoin="round" d="M1630.0,790.6 1630.6,788.3 1631.2,785.7 1631.8,783.2 1632.4,781.4 1633.0,780.4 1633.6,778.0 1634.2,776.5 1634.8,775.0 1635.4,773.5 1636.0,771.4 1636.6,770.6 1637.2,770.3 1637.8,768.3 1638.4,767.1 1639.0,765.2 1639.6,764.6 1640.2,763.7 1640.8,762.3 1641.4,761.2 1642.0,761.2 1642.6,759.9 1643.2,758.2 1643.8,757.1 1644.4,756.8 1645.0,755.7 1645.6,755.0 1646.2,753.2 1646.8,753.2 1647.4,752.7 1648.0,751.9 1648.6,751.4 1649.2,748.8 1649.8,748.4 1650.4,747.7 1651.0,746.9 1651.6,747.0 1652.2,745.9 1652.8,744.6 1653.4,743.0 1654.0,741.6 1654.6,741.9 1655.2,741.6 1655.8,741.1 1656.4,741.2 1657.0,739.8 1657.6,738.9 1658.2,740.6 1658.8,740.2 1659.4,739.6 1660.0,737.2 1660.6,735.7 1661.2,734.6 1661.8,734.7 1662.4,735.1 1663.0,734.1 1663.6,731.8 1664.2,733.6 1664.8,731.4 1665.4,730.7 1666.0,730.6 1666.6,731.1 1667.2,731.4 1667.8,730.1 1668.4,730.6 1669.0,730.4 1669.6,729.6 1670.2,728.9 1670.8,727.9 1671.4,726.9 1672.0,729.0 1672.6,727.2 1673.2,727.6 1673.8,727.6 1674.4,727.1 1675.0,725.6 1675.6,724.7 1676.2,724.0 1676.8,723.4 1677.4,724.2 1678.0,723.9 1678.6,722.1 1679.2,722.3 1679.8,721.6 1680.4,720.8 1681.0,720.6 1681.6,721.0 1682.2,720.9 1682.8,720.3 1683.4,721.0 1684.0,720.1 1684.6,719.6 1685.2,719.0 1685.8,717.7 1686.4,718.6 1687.0,717.6 1687.6,717.7 1688.2,717.4 1688.8,715.7 1689.4,717.4 1690.0,715.1 1690.6,714.8 1691.2,714.5 1691.8,715.4 1692.4,714.3 1693.0,714.8 1693.6,714.1 1694.2,714.2 1694.8,711.7 1695.4,712.1 1696.0,713.6 1696.6,714.1 1697.2,713.2 1697.8,713.8 1698.4,712.8 1699.0,711.4 1699.6,710.3 1700.2,711.2 1700.8,709.8 1701.4,710.3 1702.0,709.5 1702.6,710.1 1703.2,709.5 1703.8,707.9 1704.4,707.7 1705.0,707.3 1705.6,707.0 1706.2,707.4 1706.8,706.9 1707.4,707.4 1708.0,707.3 1708.6,707.8 1709.2,708.4 1709.8,708.5 1710.4,706.9 1711.0,707.6 1711.6,707.4 1712.2,705.1 1712.8,705.9 1713.4,704.6 1714.0,705.6 1714.6,705.3 1715.2,705.3 1715.8,705.5 1716.4,704.5 1717.0,703.8 1717.6,703.3 1718.2,704.5 1718.8,704.0 1719.4,703.9 1720.0,702.7 1720.6,704.3 1721.2,702.8 1721.8,702.7 1722.4,702.6 1723.0,702.1 1723.6,703.6 1724.2,702.4 1724.8,701.7 1725.4,702.0 1726.0,703.4 1726.6,702.1 1727.2,701.0 1727.8,701.9 1728.4,701.0 1729.0,700.8 1729.6,700.4 1730.2,701.2 1730.8,700.9 1731.4,699.9 1732.0,702.0 1732.6,701.1 1733.2,701.7 1733.8,700.1 1734.4,700.5 1735.0,700.3 1735.6,699.7 1736.2,699.4 1736.8,699.8 1737.4,701.6 1738.0,699.6 1738.6,701.2 1739.2,701.6 1739.8,701.5 1740.4,701.0 1741.0,698.7 1741.6,698.6 1742.2,699.4 1742.8,699.0 1743.4,699.4 1744.0,699.8 1744.6,699.1 1745.2,697.7 1745.8,699.2 1746.4,699.5 1747.0,698.4 1747.6,698.9 1748.2,697.3 1748.8,697.8 1749.4,697.1 1750.0,696.7 1750.6,698.0 1751.2,699.2 1751.8,698.5 1752.4,697.7 1753.0,698.1 1753.6,697.5 1754.2,696.3 1754.8,696.4 1755.4,696.3 1756.0,696.0 1756.6,696.2 1757.2,697.7 1757.8,696.2 1758.4,698.2 1759.0,698.7 1759.6,697.0 1760.2,698.5 1760.8,699.2 1761.4,698.8 1762.0,699.1 1762.6,698.8 1763.2,696.4 1763.8,697.8 1764.4,696.6 1765.0,696.9 1765.6,696.6 1766.2,697.5 1766.8,696.4 1767.4,696.2 1768.0,695.3 1768.6,697.1 1769.2,695.6 1769.8,696.8 1770.4,696.4 1771.0,697.4 1771.6,696.7 1772.2,697.3 1772.8,697.3 1773.4,695.3 1774.0,694.8 1774.6,694.7 1775.2,695.6 1775.8,695.0 1776.4,695.1 1777.0,696.0 1777.6,695.2 1778.2,694.6 1778.8,695.8 1779.4,694.1 1780.0,696.1 1780.6,694.7 1781.2,696.0 1781.8,694.7 1782.4,695.2 1783.0,695.9 1783.6,694.6 1784.2,695.2 1784.8,695.1 1785.4,694.6 1786.0,693.5 1786.6,694.5 1787.2,694.2 1787.8,693.0 1788.4,693.3 1789.0,693.4 1789.6,694.8 1790.2,694.8 1790.8,693.6 1791.4,694.3 1792.0,695.2 1792.6,692.9 1793.2,693.1 1793.8,693.1 1794.4,694.2 1795.0,692.1 1795.6,691.8 1796.2,691.2 1796.8,691.8 1797.4,691.2 1798.0,692.7 1798.6,694.0 1799.2,692.4 1799.8,693.1 1800.4,694.5 1801.0,691.7 1801.6,692.8 1802.2,694.5 1802.8,693.8 1803.4,693.1 1804.0,693.0 1804.6,691.9 1805.2,691.2 1805.8,691.6 1806.4,692.9 1807.0,692.5 1807.6,693.2 1808.2,692.5 1808.8,692.9 1809.4,691.9 1810.0,692.2 1810.6,692.0 1811.2,691.0 1811.8,691.3 1812.4,691.6 1813.0,690.7 1813.6,691.6 1814.2,691.8 1814.8,692.7 1815.4,692.0 1816.0,691.8 1816.6,691.6 1817.2,689.3 1817.8,689.5 1818.4,690.3 1819.0,691.1 1819.6,690.9 1820.2,691.8 1820.8,692.1 1821.4,692.2 1822.0,691.1 1822.6,690.9 1823.2,690.5 1823.8,690.7 1824.4,690.4 1825.0,689.4 1825.6,689.3 1826.2,688.5 1826.8,689.2 1827.4,689.1 1828.0,689.2 1828.6,689.7 1829.2,689.4 1829.8,689.3 1830.4,689.6 1831.0,688.5 1831.6,690.2 1832.2,689.0 1832.8,689.2 1833.4,690.7 1834.0,691.0 1834.6,691.2 1835.2,690.6 1835.8,690.6 1836.4,689.6 1837.0,689.5 1837.6,689.3 1838.2,687.8 1838.8,689.3 1839.4,688.6 1840.0,688.5 1840.6,688.9 1841.2,688.4 1841.8,687.9 1842.4,688.2 1843.0,688.7 1843.6,689.6 1844.2,688.5 1844.8,687.6 1845.4,688.3 1846.0,687.9 1846.6,688.4 1847.2,688.4 1847.8,687.5 1848.4,688.4 1849.0,687.7 1849.6,688.8 1850.2,687.1 1850.8,687.2 1851.4,687.0 1852.0,687.5 1852.6,688.3 1853.2,687.0 1853.8,687.0 1854.4,686.1 1855.0,688.3 1855.6,687.9 1856.2,688.6 1856.8,688.6 1857.4,687.3 1858.0,687.4 1858.6,688.0 1859.2,686.1 1859.8,687.7 1860.4,687.8 1861.0,688.8 1861.6,688.6 1862.2,689.6 1862.8,689.3 1863.4,688.0 1864.0,688.2 1864.6,688.3 1865.2,687.6 1865.8,688.2 1866.4,688.4 1867.0,688.2 1867.6,687.6 1868.2,689.0 1868.8,688.5 1869.4,687.7 1870.0,688.9 1870.6,687.1 1871.2,689.0 1871.8,687.7 1872.4,686.9 1873.0,687.4 1873.6,687.9 1874.2,687.4 1874.8,687.0 1875.4,686.8 1876.0,687.0 1876.6,688.1 1877.2,688.6 1877.8,688.1 1878.4,686.9 1879.0,686.1 1879.6,686.0 1880.2,686.9 1880.8,687.2 1881.4,686.9 1882.0,685.7 1882.6,686.7 1883.2,687.5 1883.8,685.7 1884.4,687.1 1885.0,688.1 1885.6,687.1 1886.2,686.1 1886.8,686.6 1887.4,686.4 1888.0,688.2 1888.6,687.3 1889.2,686.8 1889.8,687.0 1890.4,687.1 1891.0,685.7 1891.6,687.9 1892.2,687.2 1892.8,687.7 1893.4,685.4 1894.0,687.4 1894.6,687.5 1895.2,686.1 1895.8,687.1 1896.4,687.2 1897.0,687.8 1897.6,688.6 1898.2,687.5 1898.8,688.1 1899.4,687.9 1900.0,686.4 1900.6,687.3 1901.2,688.0 1901.8,688.1 1902.4,687.7 1903.0,685.8 1903.6,686.4 1904.2,685.9 1904.8,685.1 1905.4,685.3 1906.0,685.1 1906.6,685.7 1907.2,686.6 1907.8,686.4 1908.4,686.3 1909.0,688.7 1909.6,688.3 1910.2,687.0 1910.8,687.2 1911.4,687.4 1912.0,685.1 1912.6,686.8 1913.2,685.4 1913.8,684.9 1914.4,685.5 1915.0,687.3 1915.6,687.2 1916.2,685.8 1916.8,686.5 1917.4,685.3 1918.0,685.3 1918.6,685.4 1919.2,686.3 1919.8,685.2 1920.4,686.5 1921.0,686.1 1921.6,685.8 1922.2,685.6 1922.8,684.6 1923.4,684.8 1924.0,686.8 1924.6,686.0 1925.2,686.4 1925.8,686.4 1926.4,686.4 1927.0,684.9 1927.6,684.8 1928.2,685.9 1928.8,685.9 1929.4,685.4 1930.0,685.2 1930.6,687.0 1931.2,686.9 1931.8,686.1 1932.4,687.1 1933.0,685.7"/>
<path fill="none" stroke="#f00" stroke-width="6.4" stroke-linejoin="round" d="M124.1,680.5 124.8,681.1 125.5,680.8 126.2,681.1 126.9,681.2 127.6,680.8 128.3,680.8 129.0,680.5 129.7,680.5 130.4,680.7 131.1,680.8 131.8,680.9 132.5,680.6 133.2,680.5 133.9,680.7 134.6,681.3 135.3,681.0 136.0,681.0 136.7,681.3 137.4,680.5 138.1,681.0 138.8,681.4 139.5,680.9 140.2,681.1 140.9,681.0 141.6,680.5 142.3,680.7 143.0,681.1 143.7,681.1 144.4,680.9 145.1,680.7 145.8,680.8 146.5,680.8 147.2,681.2 147.9,681.1 148.6,681.5 149.3,681.3 150.0,681.0 150.7,681.2 151.4,681.0 152.1,681.1 152.8,680.8 153.5,680.9 154.2,680.6 154.9,680.7 155.6,680.9 156.3,680.9 157.0,681.3 157.7,680.8 158.4,681.2 159.1,681.0 159.8,680.9 160.5,681.2 161.2,680.9 161.9,680.6 162.6,680.4 163.3,680.3 164.0,681.2 164.7,681.2 165.4,681.3 166.1,681.4 166.8,680.9 167.5,680.4 168.2,680.8 168.9,681.1 169.6,680.7 170.3,681.0 171.0,680.7 171.7,680.6 172.4,680.4 173.1,680.7 173.8,680.3 174.5,680.6 175.2,680.8 175.9,680.9 176.6,680.8 177.3,680.6 178.0,680.6 178.7,680.6 179.4,680.6 180.1,680.4 180.8,680.5 181.5,680.5 182.2,680.9 182.9,681.0 183.6,680.9 184.3,680.9 185.0,681.1 185.7,681.2 186.4,681.1 187.1,681.1 187.8,681.2 188.5,680.4 189.2,680.9 189.9,680.4 190.6,680.3 191.3,680.7 192.0,680.7 192.7,680.4 193.4,680.6 194.1,680.1 194.8,680.3 195.5,680.7 196.2,680.5 196.9,680.7 197.6,680.8 198.3,680.8 199.0,680.7 199.7,680.0 200.4,680.2 201.1,680.0 201.8,679.9 202.5,680.2 203.2,680.3 203.9,680.7 204.6,680.6 205.3,680.3 206.0,680.2 206.7,680.5 207.4,680.1 208.1,680.1 208.8,680.4 209.5,680.1 210.2,680.5 210.9,680.6 211.6,680.2 212.3,680.6 213.0,680.7 213.7,680.7 214.4,679.9 215.1,679.8 215.8,680.4 216.5,680.4 217.2,679.9 217.9,680.0 218.6,680.2 219.3,680.3 220.0,679.9 220.7,680.3 221.4,680.3 222.1,680.1 222.8,679.6 223.5,679.5 224.2,679.8 224.9,680.0 225.6,679.6 226.3,679.5 227.0,679.6 227.7,679.6 228.4,679.5 229.1,679.4 229.8,680.0 230.5,680.0 231.2,680.0 231.9,679.9 232.6,679.9 233.3,680.1 234.0,680.3 234.7,680.2 235.4,679.6 236.1,679.6 236.8,680.1 237.5,680.2 238.2,679.8 238.9,680.0 239.6,680.2 240.3,679.8 241.0,679.9 241.7,679.2 242.4,679.4 243.1,679.5 243.8,679.5 244.5,680.2 245.2,679.5 245.9,679.9 246.6,679.4 247.3,679.7 248.0,679.7 248.7,679.5 249.4,679.6 250.1,679.6 250.8,679.5 251.5,679.5 252.2,679.2 252.9,679.1 253.6,679.1 254.3,679.2 255.0,679.1 255.7,679.6 256.4,679.6 257.1,679.3 257.8,679.4 258.5,679.3 259.2,679.7 259.9,679.4 260.6,679.6 261.3,680.0 262.0,679.3 262.7,679.5 263.4,679.4 264.1,679.4 264.8,679.1 265.5,679.4 266.2,679.6 266.9,679.4 267.6,679.0 268.3,679.4 269.0,679.2 269.7,679.0 270.4,678.5 271.1,679.1 271.8,679.5 272.5,679.2 273.2,679.4 273.9,679.0 274.6,679.4 275.3,679.3 276.0,679.1 276.7,679.2 277.4,678.7 278.1,678.8 278.8,678.6 279.5,678.6 280.2,678.3 280.9,678.7 281.6,678.5 282.3,678.7 283.0,678.4 283.7,678.9 284.4,679.0 285.1,678.9 285.8,678.5 286.5,678.8 287.2,678.6 287.9,679.1 288.6,679.0 289.3,678.7 290.0,678.6 290.7,678.6 291.4,678.2 292.1,678.7 292.8,678.3 293.5,678.4 294.2,678.3 294.9,677.7 295.6,678.4 296.3,678.4 297.0,678.7 297.7,678.4 298.4,678.0 299.1,678.2 299.8,677.6 300.5,677.8 301.2,677.7 301.9,677.5 302.6,678.0 303.3,678.1 304.0,678.4 304.7,678.2 305.4,678.0 306.1,678.4 306.8,677.5 307.5,677.5 308.2,677.9 308.9,677.5 309.6,677.6 310.3,678.1 311.0,677.7 311.7,678.3 312.4,678.1 313.1,677.7 313.8,677.6 314.5,677.7 315.2,678.0 315.9,677.8 316.6,677.5 317.3,677.8 318.0,678.3 318.7,678.1 319.4,678.7 320.1,678.2 320.8,678.8 321.5,678.5 322.2,678.1 322.9,678.7 323.6,678.4 324.3,678.7 325.0,678.8 325.7,678.8 326.4,679.0 327.1,678.9 327.8,679.0 328.5,678.9 329.2,679.1 329.9,680.1 330.6,679.6 331.3,680.3 332.0,680.1 332.7,680.4 333.4,681.0 334.1,681.2 334.8,680.9 335.5,680.7 336.2,681.6 336.9,681.3 337.6,681.7 338.3,682.0 339.0,682.2 339.7,682.2 340.4,682.1 341.1,681.9 341.8,682.5 342.5,682.6 343.2,682.8 343.9,682.6 344.6,682.0 345.3,682.1 346.0,682.2 346.7,682.3 347.4,682.7 348.1,682.2 348.8,682.6 349.5,682.5 350.2,682.7 350.9,682.4 351.6,682.5 352.3,682.2 353.0,682.4 353.7,682.9 354.4,682.5 355.1,682.6 355.8,682.2 356.5,681.9 357.2,682.4 357.9,682.2 358.6,682.9 359.3,682.2 360.0,682.7 360.7,682.2 361.4,682.3 362.1,682.8 362.8,682.5 363.5,682.6 364.2,682.5 364.9,682.0 365.6,682.6 366.3,682.7 367.0,682.2 367.7,682.6 368.4,682.1 369.1,682.5 369.8,682.1 370.5,682.6 371.2,682.9 371.9,682.8 372.6,682.3 373.3,682.9 374.0,682.5 374.7,682.9 375.4,682.5 376.1,682.2 376.8,682.7 377.5,682.8 378.2,682.7 378.9,682.8 379.6,682.3 380.3,682.2 381.0,682.3 381.7,682.6 382.4,682.5 383.1,682.5 383.8,682.6 384.5,682.4 385.2,682.2 385.9,682.5 386.6,682.3 387.3,682.3 388.0,682.8 388.7,682.1 389.4,682.4 390.1,682.5 390.8,682.1 391.5,682.3 392.2,682.7 392.9,682.3 393.6,682.4 394.3,682.6 395.0,682.4 395.7,683.0 396.4,682.8 397.1,682.6 397.8,682.6 398.5,682.4 399.2,682.6 399.9,682.4 400.6,682.9 401.3,682.6 402.0,682.4 402.7,682.4 403.4,682.8 404.1,682.7 404.8,682.5 405.5,682.4 406.2,682.3 406.9,682.7 407.6,681.9 408.3,682.6 409.0,682.7 409.7,682.3 410.4,682.5 411.1,682.6 411.8,682.7 412.5,683.0 413.2,683.1 413.9,682.4 414.6,682.4 415.3,682.4 416.0,682.4 416.7,682.5 417.4,682.1 418.1,682.5 418.8,682.8 419.5,682.9 420.2,682.8 420.9,682.7 421.6,682.6 422.3,681.9 423.0,682.7 423.7,682.5 424.4,682.5 425.1,682.5 425.8,682.8 426.5,682.4 427.2,682.3 427.9,682.3 428.6,682.7 429.3,682.6 430.0,682.1 430.7,682.3 431.4,682.6 432.1,682.4 432.8,682.6 433.5,682.2 434.2,682.2 434.9,682.6 435.6,682.6 436.3,682.1 437.0,682.1 437.7,682.1 438.4,682.4 439.1,682.3 439.8,682.3 440.5,682.4 441.2,682.1 441.9,682.3 442.6,682.2 443.3,682.0 444.0,682.3 444.7,682.4 445.4,682.3 446.1,682.3 446.8,682.2 447.5,682.7 448.2,682.7 448.9,682.7 449.6,682.3 450.3,682.4 451.0,682.2 451.7,682.0 452.4,682.3 453.1,682.1 453.8,682.2 454.5,682.7 455.2,682.6 455.9,682.5 456.6,682.3 457.3,682.3 458.0,682.1 458.7,682.3 459.4,682.1 460.1,682.7 460.8,682.5 461.5,681.8 462.2,681.8 462.9,682.3 463.6,682.0 464.3,682.1 465.0,682.3 465.7,682.2 466.4,682.5 467.1,682.6 467.8,682.4 468.5,682.7 469.2,682.1 469.9,682.4 470.6,682.7 471.3,682.0 472.0,682.5 472.7,682.7 473.4,682.3 474.1,682.7 474.8,682.1 475.5,681.9 476.2,682.3 476.9,681.6 477.6,682.5 478.3,682.2 479.0,682.3 479.7,682.3 480.4,682.1 481.1,681.6 481.8,682.0 482.5,682.2 483.2,682.6 483.9,682.4 484.6,682.0 485.3,682.3 486.0,682.2 486.7,682.1 487.4,681.9 488.1,682.1 488.8,681.8 489.5,681.6 490.2,682.1 490.9,682.3 491.6,682.0 492.3,682.0 493.0,682.1 493.7,682.2 494.4,681.9 495.1,682.0 495.8,681.7 496.5,681.6 497.2,681.8 497.9,681.5 498.6,681.3 499.3,681.6 500.0,681.7 500.7,681.4 501.4,681.9 502.1,681.8 502.8,682.2 503.5,682.3 504.2,681.8 504.9,681.9 505.6,682.2 506.3,682.1 507.0,681.6 507.7,682.1 508.4,681.3 509.1,681.4 509.8,681.3 510.5,681.3 511.2,681.7 511.9,682.0 512.6,681.8 513.3,681.6 514.0,681.5 514.7,681.4 515.4,681.3 516.1,681.6 516.8,681.6 517.5,681.2 518.2,681.5 518.9,681.3 519.6,681.7 520.3,681.5 521.0,681.5 521.7,681.6 522.4,681.4 523.1,681.6 523.8,681.2 524.5,681.6 525.2,681.4 525.9,681.9 526.6,681.6 527.3,681.6 528.0,681.8 528.7,681.7 529.4,681.9 530.1,681.2 530.8,681.7 531.5,681.8 532.2,681.3 532.9,681.4 533.6,681.5 534.3,681.1 535.0,681.6 535.7,681.5 536.4,681.7 537.1,681.6 537.8,681.8 538.5,681.4 539.2,681.4 539.9,681.5 540.6,681.6 541.3,681.1 542.0,681.2 542.7,681.1 543.4,681.4 544.1,681.7 544.8,681.4 545.5,681.6 546.2,681.6 546.9,681.6 547.6,680.8 548.3,680.6 549.0,680.9 549.7,680.8 550.4,680.7 551.1,681.1 551.8,681.1 552.5,680.8 553.2,681.3 553.9,681.5 554.6,681.7 555.3,680.8 556.0,681.4 556.7,680.6 557.4,680.9 558.1,681.0 558.8,681.2 559.5,681.2 560.2,681.1 560.9,681.5 561.6,681.2 562.3,681.5 563.0,680.7 563.7,680.9 564.4,681.1 565.1,680.8 565.8,681.1 566.5,681.2 567.2,681.4 567.9,681.6 568.6,681.2 569.3,680.8 570.0,680.6 570.7,680.5 571.4,680.3 572.1,680.7 572.8,680.3 573.5,680.2 574.2,681.0 574.9,681.2 575.6,680.8 576.3,681.0 577.0,681.1 577.7,680.8 578.4,680.5 579.1,680.5 579.8,680.7 580.5,680.3 581.2,680.9 581.9,680.6 582.6,680.4 583.3,680.7 584.0,680.4 584.7,680.7 585.4,680.8 586.1,680.6 586.8,681.0 587.5,680.7 588.2,680.6 588.9,680.4 589.6,680.4 590.3,680.8 591.0,680.3 591.7,680.5 592.4,680.5 593.1,680.8 593.8,680.2 594.5,680.4 595.2,680.4 595.9,680.3 596.6,680.5 597.3,680.5 598.0,681.0 598.7,680.6 599.4,680.7 600.1,680.6 600.8,680.3 601.5,680.6 602.2,680.3 602.9,680.8 603.6,680.6 604.3,680.0 605.0,680.0 605.7,680.3 606.4,680.2 607.1,680.0 607.8,680.7 608.5,680.6 609.2,681.0 609.9,680.9 610.6,680.9 611.3,680.8 612.0,680.8 612.7,680.3 613.4,680.3 614.1,680.2 614.8,680.8 615.5,680.4 616.2,680.6 616.9,680.4 617.6,680.6 618.3,680.2 619.0,680.0 619.7,680.0 620.4,679.6 621.1,679.8 621.8,680.1 622.5,679.9 623.2,680.6 623.9,680.4 624.6,680.0 625.3,680.3 626.0,679.9 626.7,679.9 627.4,680.3 628.1,679.8 628.8,680.2 629.5,680.0 630.2,680.2 630.9,680.3 631.6,680.0 632.3,680.0 633.0,680.3 633.7,680.2 634.4,679.9 635.1,680.1 635.8,680.5 636.5,680.1 637.2,680.5 637.9,680.1 638.6,680.1 639.3,680.3 640.0,680.2 640.7,680.3 641.4,680.3 642.1,679.8 642.8,679.8 643.5,679.9 644.2,679.6 644.9,680.1 645.6,680.0 646.3,679.9 647.0,679.9 647.7,680.3 648.4,680.1 649.1,679.6 649.8,679.8 650.5,679.5 651.2,679.6 651.9,679.8 652.6,679.9 653.3,679.2 654.0,679.3 654.7,679.7 655.4,679.8 656.1,679.9 656.8,679.4 657.5,679.6 658.2,679.7 658.9,679.9 659.6,679.8 660.3,679.9 661.0,679.6 661.7,679.5 662.4,679.6 663.1,680.1 663.8,680.0 664.5,679.7 665.2,679.7 665.9,679.5 666.6,679.8 667.3,679.6 668.0,679.6 668.7,679.3 669.4,679.6 670.1,679.5 670.8,679.6 671.5,679.6 672.2,679.4 672.9,679.9 673.6,679.5 674.3,679.6 675.0,679.4 675.7,679.4 676.4,679.2 677.1,679.2 677.8,679.8 678.5,679.5 679.2,679.0 679.9,679.5 680.6,679.5 681.3,679.5 682.0,679.8 682.7,679.8 683.4,679.5 684.1,679.1 684.8,678.9 685.5,679.0 686.2,679.2 686.9,679.6 687.6,679.1 688.3,679.6 689.0,679.7 689.7,679.7 690.4,679.0 691.1,678.9 691.8,679.2 692.5,679.2 693.2,679.0 693.9,679.0 694.6,678.7 695.3,679.3 696.0,679.1 696.7,679.3 697.4,679.4 698.1,679.3 698.8,679.5 699.5,679.1 700.2,679.4 700.9,679.1 701.6,679.3 702.3,679.5 703.0,678.9 703.7,679.2 704.4,678.9 705.1,678.7 705.8,678.7 706.5,678.5 707.2,678.9 707.9,679.0 708.6,678.6 709.3,678.8 710.0,679.4 710.7,679.2 711.4,679.7 712.1,679.7 712.8,679.4 713.5,679.6 714.2,679.2 714.9,679.5 715.6,679.6 716.3,679.1 717.0,678.7 717.7,678.5 718.4,678.5 719.1,678.5 719.8,679.1 720.5,678.9 721.2,679.3 721.9,679.2 722.6,679.1 723.3,679.2 724.0,679.3 724.7,678.9 725.4,679.1 726.1,679.4 726.8,679.6 727.5,679.1 728.2,679.1 728.9,679.2 729.6,678.9 730.3,679.4 731.0,679.6 731.7,679.1 732.4,679.0 733.1,678.9 733.8,679.1 734.5,679.4 735.2,679.2 735.9,678.9 736.6,678.9 737.3,679.0 738.0,679.3 738.7,679.0 739.4,679.0 740.1,679.5 740.8,678.9 741.5,679.5 742.2,679.1 742.9,678.9 743.6,679.3 744.3,678.8 745.0,678.6 745.7,678.6 746.4,678.7 747.1,678.3 747.8,678.7 748.5,678.5 749.2,678.7 749.9,678.5 750.6,678.9 751.3,679.1 752.0,678.7 752.7,678.6 753.4,678.8 754.1,679.0 754.8,678.7 755.5,679.0 756.2,679.2 756.9,679.1 757.6,678.9 758.3,679.2 759.0,679.0 759.7,678.8 760.4,678.7 761.1,679.1 761.8,679.0 762.5,678.9 763.2,678.8 763.9,678.5 764.6,678.8 765.3,679.1 766.0,678.9 766.7,678.6 767.4,678.8 768.1,678.6 768.8,678.7 769.5,679.0 770.2,679.0 770.9,679.0 771.6,679.3 772.3,679.2 773.0,679.0 773.7,678.6 774.4,678.8 775.1,678.9 775.8,678.8 776.5,678.6 777.2,679.1 777.9,678.5 778.6,678.3 779.3,678.8 780.0,678.7 780.7,678.2 781.4,678.4 782.1,678.8 782.8,679.1 783.5,678.7 784.2,678.8 784.9,678.6 785.6,679.1 786.3,678.9 787.0,678.8 787.7,679.1 788.4,679.0 789.1,678.7 789.8,678.7 790.5,678.9 791.2,678.8 791.9,678.7 792.6,678.9 793.3,678.5 794.0,678.6 794.7,679.1 795.4,678.6 796.1,679.1 796.8,679.0 797.5,678.7 798.2,678.4 798.9,678.3 799.6,678.5 800.3,678.9 801.0,679.0 801.7,679.1 802.4,678.7 803.1,679.1 803.8,678.9 804.5,678.9 805.2,678.5 805.9,678.4 806.6,678.4 807.3,678.4 808.0,678.8 808.7,678.5 809.4,678.6 810.1,678.3 810.8,678.5 811.5,679.2 812.2,679.2 812.9,678.6 813.6,678.9 814.3,678.6 815.0,678.3 815.7,678.7 816.4,678.5 817.1,678.6 817.8,678.9 818.5,679.0 819.2,678.4 819.9,678.9 820.6,678.4 821.3,678.8 822.0,678.6 822.7,678.5 823.4,678.1 824.1,678.3 824.8,678.6 825.5,678.7 826.2,679.1 826.9,678.7 827.6,678.8 828.3,678.5 829.0,678.7 829.7,678.9 830.4,678.3 831.1,678.7 831.8,678.3 832.5,678.9 833.2,678.7 833.9,678.5 834.6,678.8 835.3,678.9 836.0,678.5 836.7,678.5 837.4,678.7 838.1,678.9 838.8,679.1 839.5,678.9 840.2,678.4 840.9,678.2 841.6,678.5 842.3,678.5 843.0,678.2 843.7,678.3 844.4,678.6 845.1,678.1 845.8,678.2 846.5,678.8 847.2,678.3 847.9,678.3 848.6,678.4 849.3,678.9 850.0,678.5 850.7,678.4 851.4,678.8 852.1,678.8 852.8,678.8 853.5,678.5 854.2,678.8 854.9,678.3 855.6,678.5 856.3,678.3 857.0,678.2 857.7,678.1 858.4,678.2 859.1,679.0 859.8,678.7 860.5,678.8 861.2,679.0 861.9,678.5 862.6,678.4 863.3,678.7 864.0,678.3 864.7,678.1 865.4,678.5 866.1,678.1 866.8,678.1 867.5,678.1 868.2,678.6 868.9,678.7 869.6,678.5 870.3,678.6 871.0,679.0 871.7,678.6 872.4,679.0 873.1,678.5 873.8,678.9 874.5,678.8 875.2,678.4 875.9,678.4 876.6,678.4 877.3,678.6 878.0,678.7 878.7,678.7 879.4,678.3 880.1,678.5 880.8,678.6 881.5,678.5 882.2,678.9 882.9,678.6 883.6,678.2 884.3,678.6 885.0,678.1 885.7,678.2 886.4,678.5 887.1,678.8 887.8,678.4 888.5,678.8 889.2,678.5 889.9,678.2 890.6,678.2 891.3,678.6 892.0,678.7 892.7,678.6 893.4,678.3 894.1,678.7 894.8,677.9 895.5,677.9 896.2,678.1 896.9,678.3 897.6,677.9 898.3,677.9 899.0,678.0 899.7,678.0 900.4,677.8 901.1,677.8 901.8,677.8 902.5,678.1 903.2,677.9 903.9,678.5 904.6,678.1 905.3,677.9 906.0,678.3 906.7,678.4 907.4,678.4 908.1,678.1 908.8,678.6 909.5,678.6 910.2,678.4 910.9,678.5 911.6,678.5 912.3,678.4 913.0,678.3 913.7,677.9 914.4,678.4 915.1,678.2 915.8,678.0 916.5,678.0 917.2,677.9 917.9,678.2 918.6,678.0 919.3,677.8 920.0,678.2 920.7,678.1 921.4,678.3 922.1,678.2 922.8,678.2 923.5,678.7 924.2,678.6 924.9,678.2 925.6,678.2 926.3,678.2 927.0,678.1 927.7,678.4 928.4,678.5 929.1,678.2 929.8,678.6 930.5,678.3 931.2,677.8 931.9,677.9 932.6,677.9 933.3,677.9 934.0,678.0 934.7,677.9 935.4,677.6 936.1,677.7 936.8,677.5 937.5,678.0 938.2,677.8 938.9,677.8 939.6,678.5 940.3,677.8 941.0,677.8 941.7,678.1 942.4,678.0 943.1,677.9 943.8,678.2 944.5,677.8 945.2,677.8 945.9,678.0 946.6,677.7 947.3,678.1 948.0,678.3 948.7,678.2 949.4,678.4 950.1,677.8 950.8,678.0 951.5,678.2 952.2,678.1 952.9,677.7 953.6,677.6 954.3,677.5 955.0,677.4 955.7,677.2 956.4,677.9 957.1,677.3 957.8,677.7 958.5,677.4 959.2,678.1 959.9,677.9 960.6,677.6 961.3,677.9 962.0,677.9 962.7,677.9 963.4,677.8 964.1,677.8 964.8,677.8 965.5,677.4 966.2,677.8 966.9,677.5 967.6,677.3 968.3,677.8 969.0,677.4 969.7,677.3 970.4,677.6 971.1,677.7 971.8,677.2 972.5,677.1 973.2,677.3 973.9,677.2 974.6,677.5 975.3,677.2 976.0,677.8 976.7,677.8 977.4,677.7 978.1,677.5 978.8,677.1 979.5,677.1 980.2,677.4 980.9,677.0 981.6,677.5 982.3,677.3 983.0,677.3 983.7,676.7 984.4,676.8 985.1,677.3 985.8,677.1 986.5,676.8 987.2,677.0 987.9,677.2 988.6,677.3 989.3,676.8 990.0,676.6 990.7,676.6 991.4,676.5 992.1,676.7 992.8,676.5 993.5,676.9 994.2,676.9 994.9,676.7 995.6,677.1 996.3,676.4 997.0,676.4 997.7,676.6 998.4,676.4 999.1,676.1 999.8,676.6 1000.5,676.5 1001.2,676.5 1001.9,676.3 1002.6,676.5 1003.3,676.1 1004.0,676.3 1004.7,676.5 1005.4,676.3 1006.1,676.3 1006.8,676.1 1007.5,676.4 1008.2,676.8 1008.9,676.7 1009.6,676.4 1010.3,675.9 1011.0,675.9 1011.7,675.9 1012.4,676.2 1013.1,675.6 1013.8,675.6 1014.5,675.6 1015.2,675.8 1015.9,675.5 1016.6,675.8 1017.3,675.1 1018.0,674.9 1018.7,675.5 1019.4,674.9 1020.1,675.2 1020.8,675.4 1021.5,675.1 1022.2,675.0 1022.9,675.1 1023.6,674.3 1024.3,674.9 1025.0,674.2 1025.7,674.3 1026.4,674.8 1027.1,674.5 1027.8,675.1 1028.5,674.7 1029.2,674.4 1029.9,674.2 1030.6,674.4 1031.3,674.6 1032.0,674.0 1032.7,673.8 1033.4,673.8 1034.1,674.0 1034.8,674.0 1035.5,673.9 1036.2,673.9 1036.9,674.0 1037.6,674.0 1038.3,673.6 1039.0,673.8 1039.7,673.0 1040.4,673.2 1041.1,673.2 1041.8,673.1 1042.5,673.2 1043.2,672.7 1043.9,673.0 1044.6,672.5 1045.3,672.3 1046.0,672.2 1046.7,671.9 1047.4,672.4 1048.1,671.9 1048.8,671.6 1049.5,671.1 1050.2,671.1 1050.9,670.9 1051.6,671.1 1052.3,670.2 1053.0,670.0 1053.7,669.7 1054.4,669.9 1055.1,670.0 1055.8,669.3 1056.5,669.3 1057.2,668.6 1057.9,668.5 1058.6,668.1 1059.3,667.7 1060.0,667.7 1060.7,667.6 1061.4,667.1 1062.1,667.0 1062.8,666.3 1063.5,666.1 1064.2,665.4 1064.9,665.4 1065.6,664.4 1066.3,664.4 1067.0,663.2 1067.7,662.8 1068.4,662.4 1069.1,662.4 1069.8,661.3 1070.5,660.8 1071.2,660.6 1071.9,659.7 1072.6,659.7 1073.3,659.1 1074.0,658.4 1074.7,658.5 1075.4,657.3 1076.1,656.8 1076.8,656.7 1077.5,656.1 1078.2,655.4 1078.9,654.7 1079.6,654.7 1080.3,653.8 1081.0,653.3 1081.7,652.7 1082.4,652.3 1083.1,651.5 1083.8,651.2 1084.5,650.7 1085.2,649.9 1085.9,649.6 1086.6,649.4 1087.3,648.6 1088.0,648.0 1088.7,647.5 1089.4,647.9 1090.1,647.5 1090.8,647.4 1091.5,647.1 1092.2,646.9 1092.9,646.5 1093.6,646.4 1094.3,646.5 1095.0,645.9 1095.7,645.8 1096.4,645.6 1097.1,645.8 1097.8,645.5 1098.5,645.6 1099.2,645.9 1099.9,645.9 1100.6,645.6 1101.3,645.4 1102.0,645.2 1102.7,644.7 1103.4,644.7 1104.1,644.8 1104.8,645.0 1105.5,645.5 1106.2,645.6 1106.9,645.1 1107.6,645.7 1108.3,645.2 1109.0,645.3 1109.7,645.0 1110.4,645.6 1111.1,644.9 1111.8,645.1 1112.5,645.5 1113.2,645.4 1113.9,645.8 1114.6,646.0 1115.3,645.5 1116.0,646.2 1116.7,646.0 1117.4,646.5 1118.1,646.4 1118.8,646.5 1119.5,646.7 1120.2,646.5 1120.9,646.3 1121.6,646.6 1122.3,646.9 1123.0,647.1 1123.7,647.2 1124.4,646.9 1125.1,646.7 1125.8,647.4 1126.5,647.4 1127.2,647.8 1127.9,647.5 1128.6,647.8 1129.3,648.0 1130.0,648.0 1130.7,648.1 1131.4,648.0 1132.1,648.7 1132.8,648.7 1133.5,648.7 1134.2,649.0 1134.9,649.3 1135.6,648.9 1136.3,649.3 1137.0,649.1 1137.7,649.4 1138.4,649.1 1139.1,649.0 1139.8,649.5 1140.5,649.1 1141.2,649.5 1141.9,649.3 1142.6,649.1 1143.3,649.1 1144.0,649.3 1144.7,648.6 1145.4,649.0 1146.1,648.3 1146.8,648.0 1147.5,648.5 1148.2,648.0 1148.9,648.2 1149.6,648.4 1150.3,647.8 1151.0,648.0 1151.7,647.7 1152.4,647.5 1153.1,646.8 1153.8,646.7 1154.5,646.6 1155.2,645.8 1155.9,646.0 1156.6,645.7 1157.3,644.7 1158.0,644.7 1158.7,644.4 1159.4,643.4 1160.1,643.5 1160.8,643.4 1161.5,642.8 1162.2,642.1 1162.9,641.8 1163.6,641.5 1164.3,641.2 1165.0,640.7 1165.7,640.1 1166.4,639.7 1167.1,639.4 1167.8,638.9 1168.5,638.7 1169.2,638.6 1169.9,637.5 1170.6,637.4 1171.3,637.4 1172.0,637.0 1172.7,636.5 1173.4,636.7 1174.1,636.0 1174.8,636.3 1175.5,635.5 1176.2,635.6 1176.9,635.4 1177.6,635.5 1178.3,635.2 1179.0,635.4 1179.7,635.2 1180.4,635.3 1181.1,635.1 1181.8,634.6 1182.5,634.4 1183.2,634.5 1183.9,634.6 1184.6,634.4 1185.3,634.2 1186.0,634.1 1186.7,634.0 1187.4,633.7 1188.1,633.6 1188.8,633.8 1189.5,633.5 1190.2,633.4 1190.9,633.4 1191.6,633.0 1192.3,632.6 1193.0,632.1 1193.7,631.7 1194.4,631.6 1195.1,631.7 1195.8,631.3 1196.5,631.1 1197.2,631.5 1197.9,630.9 1198.6,630.5 1199.3,630.5 1200.0,630.2 1200.7,629.8 1201.4,629.4 1202.1,629.6 1202.8,628.9 1203.5,629.0 1204.2,628.6 1204.9,627.4 1205.6,627.5 1206.3,627.4 1207.0,627.0 1207.7,626.2 1208.4,625.8 1209.1,625.9 1209.8,625.2 1210.5,625.3 1211.2,625.0 1211.9,624.3 1212.6,624.3 1213.3,623.7 1214.0,623.4 1214.7,623.2 1215.4,622.6 1216.1,622.8 1216.8,622.4 1217.5,621.8 1218.2,621.7 1218.9,621.3 1219.6,621.7 1220.3,621.2 1221.0,621.3 1221.7,621.2 1222.4,621.0 1223.1,620.6 1223.8,620.6 1224.5,619.9 1225.2,619.9 1225.9,619.6 1226.6,619.3 1227.3,618.8 1228.0,619.1 1228.7,619.1 1229.4,619.1 1230.1,618.8 1230.8,618.8 1231.5,618.7 1232.2,618.7 1232.9,618.0 1233.6,618.3 1234.3,618.3 1235.0,617.6 1235.7,617.8 1236.4,617.6 1237.1,617.1 1237.8,617.0 1238.5,617.1 1239.2,616.6 1239.9,616.7 1240.6,616.4 1241.3,616.1 1242.0,616.2 1242.7,616.0 1243.4,615.2 1244.1,614.6 1244.8,614.6 1245.5,614.2 1246.2,614.5 1246.9,613.7 1247.6,613.3 1248.3,612.8 1249.0,612.7 1249.7,612.5 1250.4,613.0 1251.1,612.6 1251.8,612.3 1252.5,612.2 1253.2,611.6 1253.9,611.5 1254.6,610.7 1255.3,610.5 1256.0,610.2 1256.7,610.0 1257.4,609.3 1258.1,609.1 1258.8,608.8 1259.5,608.7 1260.2,608.6 1260.9,608.5 1261.6,608.2 1262.3,607.5 1263.0,607.1 1263.7,607.1 1264.4,607.1 1265.1,606.9 1265.8,605.9 1266.5,606.2 1267.2,605.9 1267.9,605.2 1268.6,605.4 1269.3,604.9 1270.0,605.0 1270.7,604.6 1271.4,604.5 1272.1,604.3 1272.8,603.8 1273.5,603.1 1274.2,602.8 1274.9,602.9 1275.6,602.2 1276.3,602.2 1277.0,601.8 1277.7,601.8 1278.4,601.7 1279.1,601.0 1279.8,600.8 1280.5,600.4 1281.2,599.9 1281.9,599.8 1282.6,599.3 1283.3,599.1 1284.0,598.7 1284.7,598.2 1285.4,597.8 1286.1,597.0 1286.8,597.2 1287.5,596.3 1288.2,596.1 1288.9,595.8 1289.6,595.6 1290.3,594.7 1291.0,594.1 1291.7,594.1 1292.4,593.6 1293.1,592.8 1293.8,592.6 1294.5,591.4 1295.2,591.3 1295.9,590.1 1296.6,590.1 1297.3,589.8 1298.0,589.1 1298.7,588.9 1299.4,588.2 1300.1,587.4 1300.8,586.5 1301.5,586.3 1302.2,585.7 1302.9,585.2 1303.6,584.5 1304.3,583.8 1305.0,583.2 1305.7,582.9 1306.4,582.0 1307.1,581.5 1307.8,581.3 1308.5,580.4 1309.2,579.9 1309.9,579.4 1310.6,579.0 1311.3,578.2 1312.0,577.4 1312.7,577.4 1313.4,576.2 1314.1,576.1 1314.8,575.7 1315.5,574.8 1316.2,574.6 1316.9,574.3 1317.6,573.4 1318.3,572.7 1319.0,572.1 1319.7,572.1 1320.4,571.8 1321.1,570.7 1321.8,570.1 1322.5,570.1 1323.2,569.7 1323.9,569.4 1324.6,568.9 1325.3,568.2 1326.0,567.7 1326.7,566.6 1327.4,566.5 1328.1,566.3 1328.8,565.3 1329.5,564.8 1330.2,564.4 1330.9,563.9 1331.6,563.2 1332.3,563.2 1333.0,563.0 1333.7,561.9 1334.4,561.1 1335.1,560.7 1335.8,560.1 1336.5,560.5 1337.2,559.6 1337.9,559.3 1338.6,558.0 1339.3,557.4 1340.0,557.2 1340.7,556.5 1341.4,556.1 1342.1,556.5 1342.8,555.5 1343.5,555.6 1344.2,554.6 1344.9,554.3 1345.6,554.9"/>
<path fill="none" stroke="#f00" stroke-width="7.4" stroke-linejoin="miter" stroke-miterlimit="2.2" d="M1343.0,556.1 1343.8,555.7 1344.6,554.7 1345.4,555.5 1346.2,553.7 1347.0,554.2 1347.8,552.2 1348.6,553.5 1349.4,553.0 1350.2,550.5 1351.0,550.8 1351.8,549.8 1352.6,550.4 1353.4,550.9 1354.2,549.5 1355.0,547.6 1355.8,549.3 1356.6,548.1 1357.4,547.1 1358.2,547.3 1359.0,546.1 1359.8,547.6 1360.6,546.3 1361.4,545.8 1362.2,546.1 1363.0,544.5 1363.8,542.8 1364.6,542.7 1365.4,543.4 1366.2,544.4 1367.0,544.0 1367.8,542.9 1368.6,542.7 1369.4,541.4 1370.2,541.0 1371.0,542.4 1371.8,542.8 1372.6,540.9 1373.4,540.6 1374.2,539.0 1375.0,537.1 1375.8,537.0 1376.6,540.3 1377.4,540.4 1378.2,540.5 1379.0,536.5 1379.8,537.5 1380.6,537.1 1381.4,536.8 1382.2,536.7 1383.0,536.8 1383.8,533.8 1384.6,535.5 1385.4,533.9 1386.2,534.8 1387.0,535.4 1387.8,534.5 1388.6,533.7 1389.4,533.9 1390.2,529.7 1391.0,529.1 1391.8,529.3 1392.6,530.5 1393.4,531.0 1394.2,532.2 1395.0,528.2 1395.8,530.0 1396.6,527.7 1397.4,525.9 1398.2,526.4 1399.0,528.3 1399.8,523.9 1400.6,528.1 1401.4,522.8 1402.2,521.5 1403.0,522.9 1403.8,525.6 1404.6,524.5 1405.4,524.7 1406.2,519.4 1407.0,520.1 1407.8,520.0 1408.6,519.7 1409.4,520.8 1410.2,523.8 1411.0,521.8 1411.8,519.4 1412.6,524.0 1413.4,521.2 1414.2,516.5 1415.0,516.5 1415.8,520.0 1416.6,517.5 1417.4,517.1 1418.2,514.6 1419.0,517.0 1419.8,522.0 1420.6,515.1 1421.4,520.0 1422.2,514.1 1423.0,514.2 1423.8,514.2 1424.6,515.9 1425.4,516.6 1426.2,517.1 1427.0,519.5 1427.8,512.4 1428.6,511.1 1429.4,518.8 1430.2,519.6 1431.0,511.7 1431.8,517.8 1432.6,516.5 1433.4,511.2 1434.2,512.8 1435.0,513.5 1435.8,513.7 1436.6,518.5 1437.4,513.8 1438.2,517.1 1439.0,516.4 1439.8,517.0 1440.6,519.5 1441.4,509.5 1442.2,511.5 1443.0,517.0 1443.8,513.7 1444.6,511.5 1445.4,512.8 1446.2,513.5 1447.0,520.0 1447.8,512.9 1448.6,516.7 1449.4,518.5 1450.2,521.3 1451.0,517.0 1451.8,514.6 1452.6,518.4 1453.4,513.2 1454.2,511.8 1455.0,523.3 1455.8,524.4 1456.6,518.3 1457.4,522.6 1458.2,525.2 1459.0,519.1 1459.8,515.9 1460.6,514.3 1461.4,524.6 1462.2,525.5 1463.0,521.2 1463.8,528.2 1464.6,523.9 1465.4,524.0 1466.2,523.2 1467.0,527.0 1467.8,525.3 1468.6,530.9 1469.4,532.3 1470.2,529.2 1471.0,525.0 1471.8,524.3 1472.6,533.6 1473.4,533.4 1474.2,534.1 1475.0,525.4 1475.8,535.4 1476.6,529.7 1477.4,531.1 1478.2,525.7 1479.0,534.7 1479.8,537.3 1480.6,534.8 1481.4,541.4 1482.2,543.6 1483.0,541.7 1483.8,530.6 1484.6,529.9 1485.4,535.2 1486.2,539.3 1487.0,539.0 1487.8,536.7 1488.6,537.6 1489.4,544.1 1490.2,545.0 1491.0,538.3 1491.8,543.4 1492.6,549.0 1493.4,542.4 1494.2,545.6 1495.0,542.9 1495.8,552.6 1496.6,549.5 1497.4,549.0 1498.2,555.3 1499.0,549.1 1499.8,549.7 1500.6,558.2 1501.4,560.5 1502.2,554.1 1503.0,556.4 1503.8,569.3 1504.6,565.7 1505.4,570.3 1506.2,564.4 1507.0,562.3 1507.8,565.2 1508.6,570.7 1509.4,577.7 1510.2,582.7 1511.0,579.4 1511.8,580.9 1512.6,587.9"/>
<path fill="none" stroke="#f00" stroke-width="8.3" stroke-linejoin="round" d="M1511.0,580.7 1511.5,583.0 1512.0,585.7 1512.5,583.4 1513.0,588.3 1513.5,588.2 1514.0,590.7 1514.5,592.5 1515.0,594.8 1515.5,602.4 1516.0,601.3 1516.5,604.5 1517.0,609.6 1517.5,616.2 1518.0,619.0 1518.5,622.5 1519.0,627.8 1519.5,630.1 1520.0,636.5 1520.5,639.0 1521.0,641.7 1521.5,645.2 1522.0,652.7 1522.5,656.0 1523.0,660.0 1523.5,664.4 1524.0,670.2 1524.5,672.6 1525.0,678.8 1525.5,687.8 1526.0,693.3 1526.5,701.3 1527.0,706.2 1527.5,714.6 1528.0,722.4 1528.5,731.4 1529.0,744.4 1529.5,758.9 1530.0,767.7 1530.5,774.6 1531.0,778.4 1531.5,782.7 1532.0,789.1 1532.5,800.6 1533.0,804.8 1533.5,814.7 1534.0,826.3 1534.5,833.2 1535.0,845.6 1535.5,852.7 1536.0,865.1 1536.5,873.1 1537.0,879.8 1537.5,888.9 1538.0,897.4 1538.5,906.5 1539.0,916.3 1539.5,923.5 1540.0,931.5 1540.5,940.3 1541.0,950.0 1541.5,963.3 1542.0,974.1 1542.5,986.3 1543.0,996.7 1543.5,1010.7 1544.0,1020.9 1544.5,1033.0 1545.0,1043.6 1545.5,1058.8 1546.0,1067.8 1546.5,1080.2 1547.0,1090.9 1547.5,1101.5 1548.0,1109.6 1548.5,1117.0 1549.0,1126.9 1549.5,1134.3 1550.0,1139.8 1550.5,1149.3 1551.0,1159.6 1551.5,1171.5 1552.0,1183.2 1552.5,1191.9 1553.0,1194.9 1553.5,1201.0 1554.0,1210.9 1554.5,1218.4 1555.0,1228.5 1555.5,1238.2 1556.0,1244.8 1556.5,1252.2 1557.0,1258.3 1557.5,1263.6 1558.0,1270.1 1558.5,1277.6 1559.0,1284.7 1559.5,1289.3 1560.0,1294.5 1560.5,1302.6 1561.0,1306.5 1561.5,1312.9 1562.0,1317.4 1562.5,1321.4 1563.0,1326.8 1563.5,1331.1 1564.0,1334.7 1564.5,1339.5 1565.0,1344.5 1565.5,1349.0 1566.0,1350.9 1566.5,1353.9 1567.0,1355.7 1567.5,1360.1 1568.0,1360.0 1568.5,1362.1 1569.0,1362.6 1569.5,1365.0 1570.0,1365.8 1570.5,1364.1 1571.0,1362.5 1571.5,1360.3 1572.0,1360.8"/>
<path fill="none" stroke="#f00" stroke-width="7.5" stroke-linejoin="round" d="M1570.0,1364.9 1570.5,1363.4 1571.0,1361.9 1571.5,1361.8 1572.0,1360.3 1572.5,1358.9 1573.0,1356.8 1573.5,1356.7 1574.0,1354.7 1574.5,1353.0 1575.0,1351.0 1575.5,1347.5 1576.0,1344.5 1576.5,1341.0 1577.0,1338.0 1577.5,1335.5 1578.0,1331.7 1578.5,1327.2 1579.0,1323.5 1579.5,1320.4 1580.0,1316.6 1580.5,1311.2 1581.0,1305.7 1581.5,1302.4 1582.0,1297.2 1582.5,1291.1 1583.0,1284.2 1583.5,1279.1 1584.0,1272.3 1584.5,1265.3 1585.0,1258.7 1585.5,1251.8 1586.0,1244.6 1586.5,1236.1 1587.0,1227.3 1587.5,1219.6 1588.0,1209.9 1588.5,1203.3 1589.0,1197.6 1589.5,1192.4 1590.0,1188.2 1590.5,1184.3 1591.0,1178.8 1591.5,1171.5 1592.0,1164.3 1592.5,1158.7 1593.0,1151.1 1593.5,1144.8 1594.0,1138.3 1594.5,1131.1 1595.0,1122.7 1595.5,1113.8 1596.0,1103.7 1596.5,1094.4 1597.0,1083.6 1597.5,1076.9 1598.0,1070.2 1598.5,1065.7 1599.0,1060.8 1599.5,1053.9 1600.0,1047.0 1600.5,1038.2 1601.0,1029.4 1601.5,1022.3 1602.0,1014.8 1602.5,1007.0 1603.0,1001.2 1603.5,996.2 1604.0,990.2 1604.5,983.6 1605.0,977.8 1605.5,970.7 1606.0,965.0 1606.5,958.0 1607.0,951.5 1607.5,945.4 1608.0,939.3 1608.5,933.5 1609.0,928.0 1609.5,922.7 1610.0,918.5 1610.5,912.4 1611.0,908.0 1611.5,902.8 1612.0,898.3 1612.5,893.0 1613.0,888.6 1613.5,883.6 1614.0,878.8 1614.5,873.1 1615.0,868.6 1615.5,862.7 1616.0,858.5 1616.5,852.6 1617.0,848.0 1617.5,843.0 1618.0,837.1 1618.5,832.6 1619.0,827.1 1619.5,822.0 1620.0,817.3 1620.5,813.0 1621.0,811.3 1621.5,809.2 1622.0,807.0 1622.5,805.6 1623.0,803.6 1623.5,801.9 1624.0,799.2 1624.5,796.3 1625.0,794.2 1625.5,790.6 1626.0,788.8 1626.5,786.2 1627.0,783.1 1627.5,781.9 1628.0,780.2 1628.5,778.5 1629.0,777.2 1629.5,775.3 1630.0,773.4 1630.5,771.6 1631.0,769.8 1631.5,768.6 1632.0,767.8 1632.5,767.0 1633.0,764.5 1633.5,763.4 1634.0,761.7 1634.5,761.4 1635.0,760.0 1635.5,757.6 1636.0,756.5 1636.5,756.2 1637.0,754.5 1637.5,753.2 1638.0,752.8 1638.5,751.6 1639.0,749.9 1639.5,748.8 1640.0,748.6"/>
<path fill="none" stroke="#f00" stroke-width="8.6" stroke-linejoin="round" d="M1638.0,752.6 1638.5,751.5 1639.0,750.8 1639.5,749.4 1640.0,748.4 1640.5,746.9 1641.0,746.1 1641.5,746.1 1642.0,745.0 1642.5,744.1 1643.0,742.9 1643.5,741.6 1644.0,740.5 1644.5,740.7 1645.0,739.6 1645.5,738.2 1646.0,737.6 1646.5,736.6 1647.0,736.3 1647.5,735.9 1648.0,734.9 1648.5,734.7 1649.0,733.1 1649.5,732.5 1650.0,732.5 1650.5,731.7 1651.0,731.0 1651.5,729.7 1652.0,729.3 1652.5,728.2 1653.0,728.0 1653.5,727.7 1654.0,726.6 1654.5,726.9 1655.0,726.6"/>
<path fill="none" stroke="#f00" stroke-width="9.6" stroke-linejoin="round" d="M1653.0,728.5 1653.5,726.9 1654.0,726.2 1654.5,726.0 1655.0,725.5 1655.5,724.7 1656.0,725.1 1656.5,724.0 1657.0,724.2 1657.5,724.0 1658.0,722.8 1658.5,722.5 1659.0,722.6 1659.5,721.6 1660.0,721.2 1660.5,721.6 1661.0,720.7 1661.5,720.2 1662.0,720.6 1662.5,719.5 1663.0,719.1 1663.5,719.3 1664.0,719.1 1664.5,719.1 1665.0,718.8 1665.5,717.7 1666.0,717.5 1666.5,717.5 1667.0,716.1 1667.5,715.7 1668.0,715.7 1668.5,715.9 1669.0,715.1 1669.5,715.3 1670.0,714.7 1670.5,714.2 1671.0,714.1 1671.5,714.1 1672.0,714.1 1672.5,713.3 1673.0,713.6 1673.5,713.4 1674.0,712.2 1674.5,712.5 1675.0,711.7 1675.5,711.6 1676.0,710.7 1676.5,711.1 1677.0,711.2 1677.5,710.3 1678.0,710.3 1678.5,710.1 1679.0,709.7 1679.5,709.5 1680.0,709.0 1680.5,709.5 1681.0,708.6 1681.5,708.6 1682.0,708.3 1682.5,708.4 1683.0,707.4 1683.5,708.0 1684.0,707.9 1684.5,707.8 1685.0,706.9 1685.5,706.6 1686.0,706.7 1686.5,706.9 1687.0,706.5 1687.5,705.9 1688.0,705.7 1688.5,705.2 1689.0,705.7 1689.5,705.6 1690.0,704.8 1690.5,705.1 1691.0,704.5 1691.5,704.2 1692.0,703.4 1692.5,703.4 1693.0,703.8 1693.5,703.4 1694.0,703.6 1694.5,702.3 1695.0,703.0 1695.5,702.6 1696.0,703.0 1696.5,702.7 1697.0,702.3 1697.5,702.4 1698.0,702.9 1698.5,701.7 1699.0,701.5 1699.5,701.7 1700.0,701.3 1700.5,701.3 1701.0,701.0 1701.5,701.1 1702.0,700.2 1702.5,701.2 1703.0,700.3 1703.5,700.1 1704.0,701.0 1704.5,700.1 1705.0,700.0 1705.5,699.9 1706.0,699.6 1706.5,699.9 1707.0,699.1 1707.5,699.9 1708.0,699.5 1708.5,699.7 1709.0,699.7 1709.5,699.8 1710.0,699.4 1710.5,699.3 1711.0,698.6 1711.5,698.5 1712.0,698.7 1712.5,698.3 1713.0,698.2 1713.5,698.1 1714.0,698.1 1714.5,697.9 1715.0,697.4 1715.5,698.0 1716.0,697.5 1716.5,697.4 1717.0,697.5 1717.5,698.0 1718.0,697.4 1718.5,698.0 1719.0,697.4 1719.5,697.0 1720.0,697.3 1720.5,697.4 1721.0,696.7 1721.5,697.3 1722.0,696.4 1722.5,697.9 1723.0,696.9 1723.5,696.9 1724.0,696.9 1724.5,696.7 1725.0,697.4"/>
<path fill="none" stroke="#f00" stroke-width="8.6" stroke-linejoin="round" d="M1723.0,697.8 1723.5,697.2 1724.0,697.4 1724.5,696.5 1725.0,697.1 1725.5,696.2 1726.0,696.2 1726.5,696.6 1727.0,696.7 1727.5,696.8 1728.0,696.2 1728.5,696.7 1729.0,696.3 1729.5,696.5 1730.0,696.5 1730.5,695.5 1731.0,695.5 1731.5,696.3 1732.0,695.5 1732.5,695.5 1733.0,695.5 1733.5,695.0 1734.0,695.3 1734.5,695.1 1735.0,695.8 1735.5,695.6 1736.0,695.0 1736.5,695.9 1737.0,695.6 1737.5,695.0 1738.0,695.2 1738.5,695.6 1739.0,694.5 1739.5,694.9 1740.0,694.5 1740.5,695.7 1741.0,694.9 1741.5,695.5 1742.0,695.0 1742.5,695.5 1743.0,695.1 1743.5,695.1 1744.0,695.1 1744.5,695.1 1745.0,695.0 1745.5,694.6 1746.0,694.4 1746.5,694.3 1747.0,694.9 1747.5,695.1 1748.0,695.1"/>
<path fill="none" stroke="#f00" stroke-width="7.4" stroke-linejoin="round" d="M1746.0,694.7 1746.6,694.6 1747.2,694.5 1747.8,694.5 1748.4,694.5 1749.0,694.6 1749.6,694.6 1750.2,693.9 1750.8,694.4 1751.4,694.2 1752.0,694.1 1752.6,694.1 1753.2,693.4 1753.8,694.0 1754.4,693.1 1755.0,693.0 1755.6,693.5 1756.2,694.0 1756.8,693.4 1757.4,693.9 1758.0,694.0 1758.6,693.7 1759.2,693.6 1759.8,693.9 1760.4,693.8 1761.0,693.2 1761.6,693.0 1762.2,693.2 1762.8,693.1 1763.4,693.4 1764.0,692.8 1764.6,693.1 1765.2,693.4 1765.8,693.5 1766.4,692.9 1767.0,692.8 1767.6,692.6 1768.2,692.6 1768.8,692.8 1769.4,692.3 1770.0,693.0 1770.6,692.9 1771.2,692.4 1771.8,692.1 1772.4,692.0 1773.0,692.7 1773.6,691.9 1774.2,692.1 1774.8,692.6 1775.4,692.9 1776.0,692.0 1776.6,692.2 1777.2,692.4 1777.8,692.4 1778.4,691.9 1779.0,692.3 1779.6,692.7 1780.2,692.5 1780.8,691.9 1781.4,692.2 1782.0,692.0 1782.6,691.9 1783.2,692.0 1783.8,692.3 1784.4,692.1 1785.0,692.1 1785.6,691.7 1786.2,691.3 1786.8,691.6 1787.4,691.6 1788.0,691.3 1788.6,691.7 1789.2,691.7 1789.8,691.3"/>
<path fill="none" stroke="#f00" stroke-width="6.5" stroke-linejoin="round" d="M1788.0,691.5 1788.6,691.6 1789.2,691.8 1789.8,691.4 1790.4,691.5 1791.0,691.8 1791.6,691.8 1792.2,691.2 1792.8,691.3 1793.4,691.5 1794.0,690.8 1794.6,691.6 1795.2,691.5 1795.8,691.2 1796.4,691.0 1797.0,691.7 1797.6,690.9 1798.2,691.2 1798.8,691.3 1799.4,690.7 1800.0,691.4 1800.6,690.9 1801.2,691.7 1801.8,691.3 1802.4,691.4 1803.0,691.5 1803.6,691.5 1804.2,690.8 1804.8,690.8 1805.4,691.3 1806.0,690.9 1806.6,691.1 1807.2,691.3 1807.8,691.0 1808.4,690.9 1809.0,691.0 1809.6,691.0 1810.2,690.4 1810.8,691.1 1811.4,690.8 1812.0,690.5 1812.6,690.6 1813.2,690.6 1813.8,691.0 1814.4,691.1 1815.0,690.7 1815.6,690.9 1816.2,690.7 1816.8,690.7 1817.4,690.8 1818.0,690.7 1818.6,691.1 1819.2,691.3 1819.8,690.9 1820.4,690.4 1821.0,690.5 1821.6,691.0 1822.2,690.7 1822.8,691.0 1823.4,691.0 1824.0,690.8 1824.6,690.5 1825.2,690.8 1825.8,690.3 1826.4,690.1 1827.0,690.6 1827.6,690.7 1828.2,690.6 1828.8,691.0 1829.4,690.3 1830.0,691.1 1830.6,690.6 1831.2,690.1 1831.8,690.5 1832.4,690.9 1833.0,691.1 1833.6,690.7 1834.2,691.1 1834.8,690.7 1835.4,690.4 1836.0,690.2 1836.6,690.8 1837.2,690.7 1837.8,690.7 1838.4,690.4 1839.0,690.6 1839.6,690.9 1840.2,690.6 1840.8,690.4 1841.4,690.7 1842.0,690.9 1842.6,691.0 1843.2,690.5 1843.8,690.4 1844.4,690.5 1845.0,690.5 1845.6,690.3 1846.2,690.9 1846.8,690.6 1847.4,690.8 1848.0,690.7 1848.6,690.1 1849.2,690.8 1849.8,690.2 1850.4,690.7 1851.0,690.7 1851.6,690.2 1852.2,690.6 1852.8,690.5 1853.4,690.3 1854.0,690.5 1854.6,690.6 1855.2,690.6 1855.8,690.6 1856.4,690.1 1857.0,690.3 1857.6,690.2 1858.2,689.9 1858.8,690.0 1859.4,689.8 1860.0,690.1 1860.6,689.9 1861.2,690.1 1861.8,690.4 1862.4,689.9 1863.0,690.0 1863.6,690.5 1864.2,690.5 1864.8,690.2 1865.4,690.3 1866.0,690.1 1866.6,690.4 1867.2,689.9 1867.8,690.0 1868.4,690.1 1869.0,690.0 1869.6,690.6 1870.2,690.7 1870.8,690.5 1871.4,690.1 1872.0,690.2 1872.6,690.6 1873.2,690.3 1873.8,690.5 1874.4,690.0 1875.0,690.2 1875.6,689.9 1876.2,690.3 1876.8,690.2 1877.4,690.0 1878.0,690.0 1878.6,690.3 1879.2,689.9 1879.8,690.6 1880.4,690.0 1881.0,690.2 1881.6,690.3 1882.2,690.1 1882.8,689.7 1883.4,690.0 1884.0,689.9 1884.6,689.8 1885.2,689.8 1885.8,690.2 1886.4,690.4 1887.0,690.2 1887.6,689.6 1888.2,689.7 1888.8,690.1 1889.4,689.7 1890.0,690.3 1890.6,689.8 1891.2,689.9 1891.8,690.6 1892.4,690.3 1893.0,690.4 1893.6,690.3 1894.2,689.7 1894.8,689.7 1895.4,689.8 1896.0,689.9 1896.6,689.7 1897.2,689.8 1897.8,689.9 1898.4,689.6 1899.0,689.7 1899.6,690.2 1900.2,689.8 1900.8,689.4 1901.4,689.5 1902.0,689.7 1902.6,690.1 1903.2,690.0 1903.8,690.0 1904.4,689.9 1905.0,689.8 1905.6,690.0 1906.2,689.9 1906.8,690.3 1907.4,690.1 1908.0,689.8 1908.6,689.4 1909.2,690.0 1909.8,689.5 1910.4,689.8 1911.0,689.8 1911.6,689.7 1912.2,689.7 1912.8,689.9 1913.4,689.5 1914.0,690.1 1914.6,689.7 1915.2,690.1 1915.8,689.9 1916.4,689.9 1917.0,689.5 1917.6,690.0 1918.2,689.4 1918.8,689.6 1919.4,689.4 1920.0,689.7 1920.6,690.2 1921.2,690.2 1921.8,690.1 1922.4,689.7 1923.0,689.8 1923.6,689.9 1924.2,690.2 1924.8,689.7 1925.4,689.6 1926.0,689.5 1926.6,689.7 1927.2,689.7 1927.8,689.9 1928.4,689.9 1929.0,689.1 1929.6,689.6 1930.2,689.4 1930.8,689.7 1931.4,689.5 1932.0,689.4 1932.6,689.6"/>
</g>
<rect x="126.1" y="27.6" width="1804.9" height="1375.5" fill="none" stroke="#000" stroke-width="5.5"/>
<g>
<line x1="233.8" y1="212.7" x2="412.8" y2="212.7" stroke="#000" stroke-width="6.8" stroke-linecap="round"/>
<line x1="233.8" y1="311" x2="412.8" y2="311" stroke="#f00" stroke-width="6.8" stroke-linecap="round"/>
<text transform="translate(431,239.9) scale(1,1.015)">300K</text>
<text transform="translate(431,338.9) scale(1,1.03)">77K</text>
</g>
<g>
<text transform="translate(229.9,1492.8) scale(1,1.015)" text-anchor="middle">150</text>
<text transform="translate(576.9,1492.8) scale(1,1.015)" text-anchor="middle">200</text>
<text transform="translate(923.8,1492.8) scale(1,1.015)" text-anchor="middle">250</text>
<text transform="translate(1270.8,1492.8) scale(1,1.015)" text-anchor="middle">300</text>
<text transform="translate(1617.8,1492.8) scale(1,1.015)" text-anchor="middle">350</text>
<text transform="translate(1059,1587.7) scale(1,1.026)" text-anchor="middle">Magnetic Field, mT</text>
<text transform="translate(79.8,561.8) rotate(-90) scale(1,1.03)" text-anchor="middle" style="font-size:82.1px">EPR Intensity, a.u.</text>
</g>
</g>
</svg>
</body>
</html>
